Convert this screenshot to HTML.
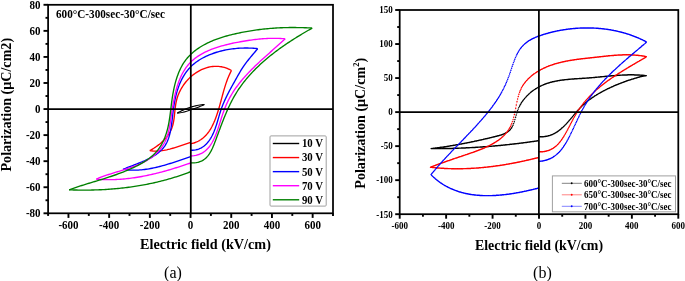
<!DOCTYPE html>
<html><head><meta charset="utf-8"><style>
html,body{margin:0;padding:0;background:#fff;}
body{width:685px;height:281px;overflow:hidden;}
svg{display:block;font-family:"Liberation Serif",serif;will-change:transform;}
</style></head><body>
<svg width="685" height="281" viewBox="0 0 685 281">
<path d="M204.40,104.50 L202.90,104.61 L201.41,104.77 L199.91,104.97 L198.42,105.21 L196.94,105.50 L195.46,105.83 L193.98,106.19 L192.52,106.60 L191.06,107.04 L189.61,107.52 L188.18,108.03 L186.75,108.57 L185.34,109.14 L183.94,109.73 L182.56,110.36 L181.19,111.01 L179.84,111.69 L178.51,112.38 L177.20,113.10" fill="none" stroke="#000000" stroke-width="1.15" stroke-linejoin="round"/>
<path d="M177.20,113.10 L178.65,112.98 L180.11,112.79 L181.57,112.54 L183.02,112.23 L184.48,111.87 L185.93,111.47 L187.39,111.04 L188.84,110.57 L190.29,110.08 L191.74,109.58 L193.18,109.06 L194.62,108.54 L196.06,108.01 L197.48,107.47 L198.90,106.91 L200.30,106.34 L201.69,105.75 L203.05,105.13 L204.40,104.50" fill="none" stroke="#000000" stroke-width="1.15" stroke-linejoin="round"/>
<path d="M231.50,70.50 L230.08,69.72 L228.65,69.03 L227.21,68.42 L225.77,67.89 L224.31,67.44 L222.86,67.07 L221.40,66.77 L219.94,66.55 L218.48,66.40 L217.02,66.32 L215.56,66.30 L214.11,66.36 L212.66,66.49 L211.22,66.68 L209.79,66.93 L208.36,67.24 L206.95,67.62 L205.55,68.05 L204.17,68.54 L202.80,69.09 L201.44,69.69 L200.11,70.35 L198.79,71.06 L197.50,71.81 L196.23,72.62 L194.98,73.47 L193.75,74.37 L192.56,75.31 L191.39,76.29 L190.25,77.31 L189.14,78.38 L188.06,79.48 L187.02,80.62 L186.01,81.79 L185.04,83.00 L184.11,84.23 L183.21,85.50 L182.36,86.80 L181.55,88.12 L180.78,89.47 L180.06,90.84 L179.38,92.24 L178.75,93.66 L178.17,95.09 L177.64,96.55 L177.16,98.02 L176.74,99.51 L176.36,101.01 L176.04,102.52 L175.77,104.04 L175.53,105.57 L175.32,107.11 L175.13,108.65 L174.96,110.19 L174.81,111.73 L174.65,113.26 L174.50,114.80 L174.33,116.32 L174.15,117.84 L173.94,119.35 L173.71,120.84 L173.44,122.32 L173.12,123.78 L172.76,125.22 L172.34,126.64 L171.86,128.04 L171.31,129.42 L170.68,130.76 L169.99,132.08 L169.24,133.37 L168.42,134.64 L167.54,135.87 L166.61,137.08 L165.63,138.25 L164.60,139.40 L163.52,140.52 L162.41,141.60 L161.26,142.65 L160.07,143.67 L158.86,144.66 L157.61,145.61 L156.35,146.53 L155.06,147.42 L153.76,148.27 L152.45,149.08 L151.13,149.86 L149.80,150.60" fill="none" stroke="#ff0000" stroke-width="1.35" stroke-linejoin="round"/>
<path d="M149.80,150.60 L151.36,150.82 L152.91,150.97 L154.46,151.06 L156.01,151.08 L157.55,151.05 L159.09,150.96 L160.62,150.81 L162.16,150.62 L163.68,150.39 L165.21,150.11 L166.73,149.80 L168.25,149.45 L169.76,149.08 L171.27,148.67 L172.78,148.24 L174.28,147.79 L175.78,147.32 L177.28,146.84 L178.77,146.35 L180.26,145.86 L181.75,145.36 L183.23,144.86 L184.71,144.37 L186.19,143.88 L187.66,143.40 L189.13,142.94 L190.60,142.50" fill="none" stroke="#ff0000" stroke-width="1.35" stroke-linejoin="round"/>
<path d="M190.60,143.80 L192.24,143.44 L193.80,143.00 L195.30,142.49 L196.74,141.91 L198.11,141.26 L199.43,140.54 L200.69,139.76 L201.89,138.92 L203.03,138.02 L204.13,137.07 L205.17,136.07 L206.17,135.01 L207.12,133.91 L208.03,132.77 L208.90,131.58 L209.72,130.35 L210.51,129.09 L211.27,127.80 L211.99,126.47 L212.67,125.12 L213.33,123.74 L213.97,122.33 L214.57,120.91 L215.15,119.47 L215.72,118.01 L216.26,116.54 L216.78,115.05 L217.28,113.55 L217.77,112.04 L218.24,110.51 L218.70,108.98 L219.15,107.44 L219.60,105.89 L220.03,104.34 L220.46,102.79 L220.88,101.23 L221.30,99.68 L221.72,98.12 L222.13,96.56 L222.55,95.01 L222.98,93.47 L223.41,91.93 L223.84,90.40 L224.28,88.87 L224.74,87.36 L225.20,85.86 L225.68,84.37 L226.17,82.89 L226.68,81.44 L227.20,79.99 L227.74,78.57 L228.31,77.17 L228.90,75.79 L229.51,74.43 L230.14,73.09 L230.81,71.78 L231.50,70.50" fill="none" stroke="#ff0000" stroke-width="1.35" stroke-linejoin="round"/>
<path d="M257.70,48.70 L256.32,48.54 L254.91,48.40 L253.49,48.28 L252.04,48.18 L250.58,48.10 L249.11,48.05 L247.61,48.01 L246.11,48.00 L244.59,48.01 L243.06,48.05 L241.52,48.10 L239.97,48.18 L238.41,48.28 L236.85,48.41 L235.28,48.56 L233.71,48.73 L232.14,48.93 L230.57,49.15 L228.99,49.40 L227.42,49.67 L225.85,49.96 L224.29,50.28 L222.73,50.63 L221.18,51.00 L219.64,51.40 L218.10,51.82 L216.58,52.27 L215.07,52.74 L213.57,53.25 L212.09,53.78 L210.62,54.33 L209.18,54.92 L207.74,55.53 L206.33,56.17 L204.95,56.84 L203.58,57.53 L202.24,58.25 L200.92,59.01 L199.63,59.79 L198.36,60.60 L197.13,61.44 L195.93,62.31 L194.75,63.21 L193.61,64.14 L192.51,65.10 L191.44,66.09 L190.41,67.11 L189.41,68.16 L188.45,69.24 L187.53,70.35 L186.64,71.49 L185.79,72.65 L184.97,73.84 L184.19,75.06 L183.44,76.30 L182.72,77.57 L182.03,78.86 L181.37,80.17 L180.74,81.50 L180.13,82.85 L179.56,84.23 L179.02,85.62 L178.50,87.03 L178.00,88.45 L177.53,89.90 L177.09,91.36 L176.66,92.83 L176.27,94.31 L175.89,95.81 L175.53,97.32 L175.20,98.85 L174.88,100.38 L174.58,101.92 L174.30,103.47 L174.04,105.03 L173.80,106.60 L173.57,108.17 L173.35,109.75 L173.15,111.33 L172.96,112.91 L172.77,114.49 L172.59,116.07 L172.41,117.65 L172.23,119.23 L172.05,120.80 L171.86,122.36 L171.65,123.91 L171.44,125.45 L171.21,126.97 L170.96,128.49 L170.69,129.98 L170.40,131.46 L170.07,132.92 L169.72,134.36 L169.34,135.77 L168.92,137.16 L168.46,138.53 L167.96,139.86 L167.41,141.17 L166.82,142.44 L166.18,143.69 L165.49,144.89 L164.74,146.07 L163.93,147.20 L163.06,148.29 L162.13,149.35 L161.14,150.37 L160.09,151.35 L159.00,152.29 L157.85,153.20 L156.66,154.08 L155.43,154.93 L154.16,155.75 L152.85,156.54 L151.52,157.30 L150.15,158.04 L148.76,158.76 L147.34,159.45 L145.91,160.13 L144.46,160.79 L142.99,161.42 L141.52,162.05 L140.04,162.66 L138.56,163.25 L137.08,163.84 L135.60,164.41 L134.13,164.98 L132.67,165.54 L131.22,166.09 L129.79,166.65 L128.38,167.19 L126.99,167.74 L125.63,168.29 L124.30,168.84 L123.00,169.40" fill="none" stroke="#0000ff" stroke-width="1.35" stroke-linejoin="round"/>
<path d="M123.00,169.40 L124.55,169.62 L126.10,169.80 L127.64,169.94 L129.18,170.05 L130.73,170.13 L132.27,170.18 L133.81,170.19 L135.34,170.17 L136.88,170.13 L138.41,170.05 L139.95,169.95 L141.48,169.82 L143.00,169.66 L144.53,169.48 L146.05,169.28 L147.58,169.05 L149.10,168.80 L150.61,168.53 L152.13,168.24 L153.64,167.93 L155.15,167.60 L156.66,167.26 L158.17,166.89 L159.67,166.51 L161.17,166.12 L162.67,165.71 L164.17,165.29 L165.66,164.86 L167.15,164.42 L168.64,163.97 L170.12,163.51 L171.61,163.04 L173.09,162.56 L174.56,162.07 L176.04,161.59 L177.51,161.09 L178.97,160.59 L180.44,160.09 L181.90,159.59 L183.36,159.09 L184.81,158.59 L186.27,158.09 L187.71,157.59 L189.16,157.09 L190.60,156.60" fill="none" stroke="#0000ff" stroke-width="1.35" stroke-linejoin="round"/>
<path d="M190.60,150.20 L192.36,150.22 L194.04,150.11 L195.64,149.87 L197.18,149.52 L198.64,149.05 L200.03,148.48 L201.36,147.80 L202.62,147.04 L203.82,146.19 L204.96,145.25 L206.04,144.25 L207.06,143.18 L208.03,142.04 L208.94,140.86 L209.80,139.62 L210.62,138.35 L211.38,137.04 L212.10,135.71 L212.77,134.35 L213.41,132.98 L214.01,131.59 L214.57,130.18 L215.11,128.76 L215.61,127.32 L216.10,125.88 L216.57,124.43 L217.02,122.97 L217.46,121.50 L217.90,120.04 L218.32,118.56 L218.75,117.09 L219.18,115.62 L219.62,114.15 L220.07,112.69 L220.53,111.23 L221.01,109.77 L221.51,108.33 L222.03,106.89 L222.58,105.47 L223.15,104.05 L223.74,102.65 L224.34,101.25 L224.97,99.86 L225.61,98.48 L226.26,97.10 L226.93,95.73 L227.62,94.37 L228.31,93.01 L229.02,91.66 L229.73,90.31 L230.45,88.97 L231.18,87.63 L231.91,86.29 L232.65,84.96 L233.39,83.63 L234.14,82.30 L234.88,80.97 L235.62,79.65 L236.36,78.32 L237.10,77.00 L237.85,75.68 L238.60,74.37 L239.35,73.06 L240.12,71.75 L240.90,70.46 L241.70,69.17 L242.52,67.89 L243.36,66.63 L244.22,65.38 L245.11,64.13 L246.02,62.90 L246.94,61.68 L247.88,60.47 L248.84,59.27 L249.81,58.07 L250.78,56.89 L251.76,55.70 L252.75,54.53 L253.75,53.36 L254.74,52.19 L255.73,51.02 L256.72,49.86 L257.70,48.70" fill="none" stroke="#0000ff" stroke-width="1.35" stroke-linejoin="round"/>
<path d="M285.20,38.80 L283.64,38.68 L282.09,38.58 L280.56,38.50 L279.03,38.43 L277.51,38.39 L276.01,38.36 L274.51,38.34 L273.01,38.35 L271.53,38.36 L270.05,38.40 L268.57,38.44 L267.10,38.51 L265.63,38.59 L264.16,38.68 L262.69,38.78 L261.23,38.90 L259.77,39.03 L258.30,39.18 L256.83,39.33 L255.36,39.50 L253.89,39.68 L252.41,39.88 L250.93,40.08 L249.44,40.29 L247.95,40.51 L246.45,40.75 L244.94,40.99 L243.42,41.24 L241.89,41.50 L240.35,41.77 L238.81,42.05 L237.26,42.34 L235.70,42.64 L234.14,42.96 L232.58,43.28 L231.02,43.62 L229.46,43.97 L227.90,44.34 L226.34,44.72 L224.78,45.11 L223.24,45.53 L221.69,45.95 L220.16,46.40 L218.63,46.86 L217.12,47.35 L215.61,47.85 L214.12,48.37 L212.65,48.91 L211.19,49.47 L209.74,50.06 L208.32,50.67 L206.91,51.29 L205.53,51.95 L204.16,52.62 L202.82,53.33 L201.51,54.05 L200.22,54.81 L198.95,55.59 L197.72,56.39 L196.51,57.23 L195.34,58.09 L194.20,58.98 L193.09,59.90 L192.01,60.85 L190.98,61.84 L189.98,62.85 L189.01,63.90 L188.09,64.97 L187.20,66.08 L186.34,67.21 L185.52,68.37 L184.73,69.56 L183.97,70.77 L183.24,72.01 L182.54,73.27 L181.87,74.56 L181.23,75.86 L180.62,77.19 L180.03,78.54 L179.47,79.91 L178.93,81.29 L178.42,82.69 L177.93,84.11 L177.46,85.55 L177.01,87.00 L176.58,88.46 L176.17,89.94 L175.78,91.43 L175.41,92.93 L175.05,94.44 L174.70,95.96 L174.38,97.48 L174.06,99.02 L173.76,100.56 L173.47,102.11 L173.19,103.66 L172.91,105.21 L172.65,106.77 L172.40,108.33 L172.15,109.89 L171.91,111.45 L171.68,113.01 L171.45,114.57 L171.22,116.13 L170.99,117.68 L170.77,119.23 L170.54,120.77 L170.30,122.30 L170.06,123.83 L169.80,125.34 L169.53,126.84 L169.24,128.33 L168.94,129.81 L168.60,131.27 L168.24,132.71 L167.86,134.14 L167.43,135.54 L166.98,136.92 L166.48,138.29 L165.95,139.63 L165.37,140.94 L164.74,142.23 L164.07,143.49 L163.35,144.72 L162.59,145.93 L161.79,147.11 L160.95,148.26 L160.06,149.39 L159.14,150.48 L158.18,151.55 L157.18,152.59 L156.14,153.60 L155.07,154.57 L153.96,155.52 L152.82,156.44 L151.64,157.33 L150.43,158.18 L149.19,159.01 L147.92,159.80 L146.63,160.57 L145.30,161.31 L143.95,162.02 L142.58,162.71 L141.19,163.37 L139.78,164.01 L138.35,164.63 L136.91,165.22 L135.45,165.80 L133.98,166.37 L132.50,166.91 L131.01,167.44 L129.51,167.96 L128.01,168.47 L126.50,168.96 L125.00,169.45 L123.49,169.92 L121.98,170.39 L120.48,170.85 L118.98,171.31 L117.49,171.76 L116.00,172.22 L114.52,172.67 L113.05,173.12 L111.59,173.58 L110.13,174.03 L108.69,174.50 L107.26,174.97 L105.84,175.44 L104.43,175.93 L103.04,176.42 L101.66,176.93 L100.29,177.45 L98.95,177.98 L97.61,178.53 L96.30,179.10" fill="none" stroke="#ff00ff" stroke-width="1.35" stroke-linejoin="round"/>
<path d="M96.30,179.10 L97.82,179.23 L99.34,179.35 L100.86,179.44 L102.38,179.52 L103.91,179.59 L105.43,179.63 L106.95,179.66 L108.48,179.68 L110.00,179.68 L111.52,179.66 L113.05,179.63 L114.57,179.58 L116.09,179.52 L117.61,179.45 L119.14,179.36 L120.66,179.25 L122.18,179.14 L123.70,179.01 L125.22,178.86 L126.74,178.70 L128.26,178.53 L129.78,178.35 L131.30,178.16 L132.82,177.95 L134.33,177.73 L135.85,177.50 L137.36,177.26 L138.88,177.01 L140.39,176.74 L141.90,176.47 L143.41,176.18 L144.92,175.89 L146.42,175.58 L147.93,175.27 L149.43,174.94 L150.93,174.61 L152.43,174.27 L153.93,173.92 L155.43,173.56 L156.92,173.19 L158.41,172.81 L159.90,172.43 L161.39,172.04 L162.88,171.64 L164.36,171.23 L165.84,170.82 L167.32,170.40 L168.80,169.98 L170.27,169.55 L171.74,169.11 L173.21,168.67 L174.68,168.22 L176.14,167.77 L177.60,167.31 L179.06,166.84 L180.51,166.38 L181.96,165.90 L183.41,165.43 L184.85,164.95 L186.30,164.47 L187.73,163.98 L189.17,163.49 L190.60,163.00" fill="none" stroke="#ff00ff" stroke-width="1.35" stroke-linejoin="round"/>
<path d="M190.60,156.00 L192.41,155.88 L194.13,155.67 L195.77,155.37 L197.33,154.98 L198.81,154.50 L200.21,153.94 L201.54,153.30 L202.80,152.59 L204.00,151.81 L205.13,150.97 L206.20,150.06 L207.21,149.09 L208.17,148.07 L209.08,146.99 L209.94,145.87 L210.76,144.70 L211.53,143.49 L212.27,142.24 L212.96,140.96 L213.63,139.65 L214.27,138.32 L214.87,136.96 L215.46,135.58 L216.02,134.18 L216.56,132.76 L217.09,131.33 L217.60,129.89 L218.10,128.43 L218.58,126.97 L219.06,125.49 L219.53,124.01 L220.00,122.53 L220.47,121.04 L220.94,119.55 L221.41,118.07 L221.89,116.58 L222.37,115.10 L222.87,113.63 L223.38,112.16 L223.90,110.71 L224.44,109.26 L225.00,107.83 L225.58,106.42 L226.18,105.01 L226.80,103.62 L227.44,102.25 L228.10,100.89 L228.78,99.54 L229.48,98.20 L230.21,96.88 L230.95,95.57 L231.71,94.28 L232.50,92.99 L233.30,91.72 L234.12,90.46 L234.96,89.22 L235.82,87.98 L236.70,86.76 L237.59,85.54 L238.50,84.34 L239.42,83.15 L240.37,81.97 L241.32,80.80 L242.29,79.64 L243.27,78.48 L244.27,77.34 L245.28,76.21 L246.30,75.08 L247.33,73.96 L248.37,72.85 L249.43,71.75 L250.49,70.66 L251.56,69.57 L252.64,68.49 L253.73,67.41 L254.83,66.34 L255.93,65.28 L257.04,64.23 L258.16,63.17 L259.28,62.13 L260.40,61.09 L261.53,60.05 L262.66,59.02 L263.80,57.99 L264.94,56.96 L266.08,55.94 L267.22,54.92 L268.36,53.90 L269.50,52.89 L270.64,51.88 L271.78,50.87 L272.92,49.86 L274.06,48.85 L275.19,47.85 L276.33,46.84 L277.45,45.84 L278.58,44.84 L279.70,43.83 L280.81,42.83 L281.92,41.82 L283.02,40.81 L284.11,39.81 L285.20,38.80" fill="none" stroke="#ff00ff" stroke-width="1.35" stroke-linejoin="round"/>
<path d="M312.20,28.10 L310.66,28.01 L309.12,27.93 L307.58,27.86 L306.05,27.79 L304.53,27.73 L303.00,27.68 L301.48,27.64 L299.97,27.60 L298.46,27.57 L296.95,27.55 L295.44,27.53 L293.94,27.52 L292.44,27.52 L290.94,27.53 L289.45,27.54 L287.96,27.56 L286.47,27.59 L284.98,27.63 L283.49,27.68 L282.00,27.73 L280.52,27.79 L279.03,27.86 L277.55,27.94 L276.07,28.03 L274.58,28.12 L273.10,28.22 L271.62,28.33 L270.14,28.45 L268.66,28.58 L267.17,28.72 L265.69,28.87 L264.20,29.02 L262.72,29.18 L261.23,29.36 L259.74,29.54 L258.25,29.73 L256.76,29.93 L255.27,30.14 L253.77,30.35 L252.28,30.58 L250.78,30.82 L249.27,31.06 L247.77,31.32 L246.26,31.58 L244.75,31.86 L243.23,32.14 L241.71,32.44 L240.19,32.74 L238.66,33.06 L237.14,33.38 L235.61,33.72 L234.09,34.07 L232.56,34.43 L231.04,34.81 L229.52,35.20 L228.01,35.60 L226.49,36.02 L224.99,36.45 L223.49,36.90 L222.00,37.36 L220.52,37.84 L219.05,38.33 L217.58,38.85 L216.13,39.38 L214.69,39.92 L213.27,40.49 L211.85,41.07 L210.45,41.68 L209.07,42.30 L207.70,42.95 L206.35,43.61 L205.02,44.30 L203.71,45.01 L202.41,45.74 L201.14,46.49 L199.89,47.27 L198.66,48.07 L197.45,48.89 L196.27,49.74 L195.12,50.62 L193.98,51.52 L192.88,52.44 L191.80,53.39 L190.76,54.37 L189.74,55.37 L188.75,56.41 L187.79,57.47 L186.87,58.56 L185.97,59.68 L185.12,60.82 L184.29,62.00 L183.50,63.21 L182.74,64.44 L182.01,65.70 L181.31,66.98 L180.65,68.29 L180.01,69.62 L179.40,70.97 L178.81,72.34 L178.26,73.73 L177.73,75.14 L177.22,76.56 L176.74,78.01 L176.28,79.46 L175.84,80.93 L175.43,82.42 L175.03,83.91 L174.66,85.42 L174.31,86.94 L173.97,88.46 L173.65,89.99 L173.35,91.53 L173.06,93.07 L172.79,94.62 L172.54,96.16 L172.30,97.72 L172.07,99.27 L171.85,100.82 L171.64,102.37 L171.44,103.92 L171.25,105.46 L171.06,107.00 L170.88,108.55 L170.69,110.08 L170.51,111.62 L170.32,113.15 L170.12,114.67 L169.92,116.19 L169.70,117.71 L169.47,119.21 L169.23,120.72 L168.98,122.21 L168.70,123.70 L168.41,125.18 L168.09,126.65 L167.75,128.12 L167.38,129.57 L166.99,131.01 L166.57,132.44 L166.13,133.86 L165.65,135.26 L165.15,136.64 L164.62,138.01 L164.06,139.36 L163.46,140.69 L162.83,142.00 L162.17,143.28 L161.48,144.55 L160.74,145.78 L159.98,147.00 L159.17,148.18 L158.33,149.34 L157.44,150.47 L156.52,151.57 L155.56,152.64 L154.56,153.68 L153.52,154.69 L152.44,155.67 L151.34,156.62 L150.20,157.55 L149.03,158.45 L147.84,159.33 L146.62,160.18 L145.38,161.01 L144.11,161.82 L142.83,162.60 L141.53,163.37 L140.21,164.12 L138.88,164.84 L137.53,165.55 L136.18,166.24 L134.82,166.92 L133.45,167.58 L132.07,168.23 L130.68,168.86 L129.29,169.48 L127.90,170.08 L126.50,170.67 L125.09,171.25 L123.68,171.82 L122.26,172.38 L120.84,172.93 L119.42,173.46 L117.99,173.99 L116.55,174.50 L115.12,175.01 L113.68,175.51 L112.24,176.01 L110.79,176.49 L109.35,176.97 L107.90,177.44 L106.45,177.91 L105.00,178.37 L103.55,178.83 L102.09,179.29 L100.64,179.74 L99.18,180.18 L97.73,180.63 L96.28,181.07 L94.82,181.51 L93.37,181.95 L91.92,182.39 L90.47,182.83 L89.02,183.27 L87.58,183.72 L86.13,184.16 L84.69,184.61 L83.26,185.06 L81.82,185.51 L80.39,185.96 L78.96,186.42 L77.54,186.89 L76.12,187.36 L74.71,187.83 L73.30,188.31 L71.89,188.80 L70.49,189.30 L69.10,189.80" fill="none" stroke="#008000" stroke-width="1.35" stroke-linejoin="round"/>
<path d="M69.10,189.80 L70.61,189.86 L72.12,189.91 L73.64,189.96 L75.15,190.00 L76.67,190.03 L78.19,190.06 L79.71,190.08 L81.23,190.09 L82.75,190.10 L84.28,190.10 L85.80,190.10 L87.32,190.09 L88.85,190.07 L90.38,190.05 L91.90,190.02 L93.43,189.99 L94.96,189.94 L96.49,189.89 L98.02,189.84 L99.55,189.78 L101.08,189.71 L102.61,189.63 L104.14,189.55 L105.67,189.46 L107.20,189.36 L108.73,189.26 L110.26,189.15 L111.79,189.03 L113.31,188.91 L114.84,188.78 L116.37,188.64 L117.90,188.49 L119.43,188.34 L120.95,188.18 L122.48,188.01 L124.00,187.84 L125.53,187.65 L127.05,187.47 L128.57,187.27 L130.09,187.06 L131.61,186.85 L133.13,186.63 L134.65,186.40 L136.16,186.17 L137.68,185.93 L139.19,185.68 L140.70,185.42 L142.21,185.15 L143.72,184.88 L145.22,184.60 L146.73,184.31 L148.23,184.01 L149.73,183.70 L151.23,183.39 L152.72,183.07 L154.21,182.74 L155.70,182.40 L157.19,182.05 L158.68,181.69 L160.16,181.33 L161.64,180.96 L163.12,180.58 L164.60,180.19 L166.07,179.79 L167.54,179.39 L169.01,178.97 L170.47,178.55 L171.93,178.12 L173.39,177.68 L174.84,177.23 L176.29,176.77 L177.74,176.31 L179.18,175.83 L180.62,175.35 L182.06,174.85 L183.49,174.35 L184.92,173.84 L186.35,173.32 L187.77,172.79 L189.19,172.25 L190.60,171.70" fill="none" stroke="#008000" stroke-width="1.35" stroke-linejoin="round"/>
<path d="M190.60,162.80 L192.52,162.89 L194.34,162.85 L196.05,162.68 L197.66,162.39 L199.17,161.98 L200.59,161.46 L201.93,160.84 L203.18,160.12 L204.35,159.31 L205.45,158.42 L206.47,157.45 L207.43,156.41 L208.33,155.31 L209.17,154.15 L209.96,152.93 L210.69,151.67 L211.39,150.38 L212.04,149.05 L212.66,147.69 L213.26,146.30 L213.83,144.90 L214.39,143.49 L214.94,142.06 L215.48,140.64 L216.02,139.21 L216.56,137.78 L217.09,136.35 L217.62,134.92 L218.16,133.50 L218.69,132.07 L219.22,130.64 L219.75,129.21 L220.29,127.78 L220.82,126.36 L221.36,124.94 L221.91,123.52 L222.45,122.10 L223.00,120.69 L223.56,119.27 L224.12,117.87 L224.69,116.46 L225.27,115.06 L225.85,113.67 L226.44,112.28 L227.04,110.89 L227.65,109.52 L228.27,108.14 L228.90,106.78 L229.54,105.42 L230.19,104.06 L230.86,102.72 L231.53,101.38 L232.23,100.05 L232.93,98.73 L233.65,97.42 L234.39,96.12 L235.14,94.82 L235.91,93.54 L236.70,92.26 L237.50,91.00 L238.32,89.74 L239.16,88.50 L240.01,87.27 L240.88,86.04 L241.77,84.83 L242.67,83.62 L243.58,82.43 L244.52,81.24 L245.46,80.07 L246.42,78.90 L247.40,77.75 L248.38,76.60 L249.39,75.47 L250.40,74.34 L251.43,73.22 L252.47,72.11 L253.52,71.01 L254.58,69.92 L255.66,68.84 L256.74,67.77 L257.84,66.71 L258.95,65.65 L260.07,64.61 L261.19,63.57 L262.33,62.54 L263.48,61.53 L264.63,60.52 L265.80,59.52 L266.97,58.52 L268.15,57.54 L269.34,56.57 L270.54,55.60 L271.74,54.64 L272.95,53.69 L274.17,52.75 L275.39,51.82 L276.62,50.89 L277.86,49.97 L279.10,49.06 L280.34,48.16 L281.59,47.27 L282.85,46.39 L284.11,45.51 L285.37,44.64 L286.63,43.78 L287.90,42.92 L289.17,42.08 L290.45,41.24 L291.73,40.41 L293.00,39.59 L294.28,38.77 L295.56,37.96 L296.85,37.16 L298.13,36.37 L299.41,35.58 L300.70,34.80 L301.98,34.03 L303.26,33.26 L304.54,32.50 L305.82,31.75 L307.10,31.01 L308.38,30.27 L309.66,29.54 L310.93,28.82 L312.20,28.10" fill="none" stroke="#008000" stroke-width="1.35" stroke-linejoin="round"/>
<rect x="48.1" y="4.8" width="284.90" height="208.50" fill="none" stroke="#000" stroke-width="1.75"/>
<line x1="48.1" y1="109.05" x2="333.0" y2="109.05" stroke="#000" stroke-width="1.75"/>
<line x1="190.80" y1="4.8" x2="190.80" y2="213.3" stroke="#000" stroke-width="1.75"/>
<line x1="43.50" y1="213.30" x2="48.1" y2="213.30" stroke="#000" stroke-width="1.9"/>
<text transform="translate(40.60,217.20) scale(1,1.1)" text-anchor="end" font-size="11" font-weight="bold">-80</text>
<line x1="45.50" y1="200.27" x2="48.1" y2="200.27" stroke="#000" stroke-width="1.9"/>
<line x1="43.50" y1="187.24" x2="48.1" y2="187.24" stroke="#000" stroke-width="1.9"/>
<text transform="translate(40.60,191.14) scale(1,1.1)" text-anchor="end" font-size="11" font-weight="bold">-60</text>
<line x1="45.50" y1="174.21" x2="48.1" y2="174.21" stroke="#000" stroke-width="1.9"/>
<line x1="43.50" y1="161.18" x2="48.1" y2="161.18" stroke="#000" stroke-width="1.9"/>
<text transform="translate(40.60,165.08) scale(1,1.1)" text-anchor="end" font-size="11" font-weight="bold">-40</text>
<line x1="45.50" y1="148.14" x2="48.1" y2="148.14" stroke="#000" stroke-width="1.9"/>
<line x1="43.50" y1="135.11" x2="48.1" y2="135.11" stroke="#000" stroke-width="1.9"/>
<text transform="translate(40.60,139.01) scale(1,1.1)" text-anchor="end" font-size="11" font-weight="bold">-20</text>
<line x1="45.50" y1="122.08" x2="48.1" y2="122.08" stroke="#000" stroke-width="1.9"/>
<line x1="43.50" y1="109.05" x2="48.1" y2="109.05" stroke="#000" stroke-width="1.9"/>
<text transform="translate(40.60,112.95) scale(1,1.1)" text-anchor="end" font-size="11" font-weight="bold">0</text>
<line x1="45.50" y1="96.02" x2="48.1" y2="96.02" stroke="#000" stroke-width="1.9"/>
<line x1="43.50" y1="82.99" x2="48.1" y2="82.99" stroke="#000" stroke-width="1.9"/>
<text transform="translate(40.60,86.89) scale(1,1.1)" text-anchor="end" font-size="11" font-weight="bold">20</text>
<line x1="45.50" y1="69.96" x2="48.1" y2="69.96" stroke="#000" stroke-width="1.9"/>
<line x1="43.50" y1="56.93" x2="48.1" y2="56.93" stroke="#000" stroke-width="1.9"/>
<text transform="translate(40.60,60.83) scale(1,1.1)" text-anchor="end" font-size="11" font-weight="bold">40</text>
<line x1="45.50" y1="43.89" x2="48.1" y2="43.89" stroke="#000" stroke-width="1.9"/>
<line x1="43.50" y1="30.86" x2="48.1" y2="30.86" stroke="#000" stroke-width="1.9"/>
<text transform="translate(40.60,34.76) scale(1,1.1)" text-anchor="end" font-size="11" font-weight="bold">60</text>
<line x1="45.50" y1="17.83" x2="48.1" y2="17.83" stroke="#000" stroke-width="1.9"/>
<line x1="43.50" y1="4.80" x2="48.1" y2="4.80" stroke="#000" stroke-width="1.9"/>
<text transform="translate(40.60,8.70) scale(1,1.1)" text-anchor="end" font-size="11" font-weight="bold">80</text>
<line x1="48.10" y1="213.3" x2="48.10" y2="215.90" stroke="#000" stroke-width="1.9"/>
<line x1="68.45" y1="213.3" x2="68.45" y2="217.90" stroke="#000" stroke-width="1.9"/>
<text transform="translate(68.45,229.40) scale(1,1.1)" text-anchor="middle" font-size="11" font-weight="bold">-600</text>
<line x1="88.80" y1="213.3" x2="88.80" y2="215.90" stroke="#000" stroke-width="1.9"/>
<line x1="109.15" y1="213.3" x2="109.15" y2="217.90" stroke="#000" stroke-width="1.9"/>
<text transform="translate(109.15,229.40) scale(1,1.1)" text-anchor="middle" font-size="11" font-weight="bold">-400</text>
<line x1="129.50" y1="213.3" x2="129.50" y2="215.90" stroke="#000" stroke-width="1.9"/>
<line x1="149.85" y1="213.3" x2="149.85" y2="217.90" stroke="#000" stroke-width="1.9"/>
<text transform="translate(149.85,229.40) scale(1,1.1)" text-anchor="middle" font-size="11" font-weight="bold">-200</text>
<line x1="170.20" y1="213.3" x2="170.20" y2="215.90" stroke="#000" stroke-width="1.9"/>
<line x1="190.55" y1="213.3" x2="190.55" y2="217.90" stroke="#000" stroke-width="1.9"/>
<text transform="translate(190.55,229.40) scale(1,1.1)" text-anchor="middle" font-size="11" font-weight="bold">0</text>
<line x1="210.90" y1="213.3" x2="210.90" y2="215.90" stroke="#000" stroke-width="1.9"/>
<line x1="231.25" y1="213.3" x2="231.25" y2="217.90" stroke="#000" stroke-width="1.9"/>
<text transform="translate(231.25,229.40) scale(1,1.1)" text-anchor="middle" font-size="11" font-weight="bold">200</text>
<line x1="251.60" y1="213.3" x2="251.60" y2="215.90" stroke="#000" stroke-width="1.9"/>
<line x1="271.95" y1="213.3" x2="271.95" y2="217.90" stroke="#000" stroke-width="1.9"/>
<text transform="translate(271.95,229.40) scale(1,1.1)" text-anchor="middle" font-size="11" font-weight="bold">400</text>
<line x1="292.30" y1="213.3" x2="292.30" y2="215.90" stroke="#000" stroke-width="1.9"/>
<line x1="312.65" y1="213.3" x2="312.65" y2="217.90" stroke="#000" stroke-width="1.9"/>
<text transform="translate(312.65,229.40) scale(1,1.1)" text-anchor="middle" font-size="11" font-weight="bold">600</text>
<line x1="333.00" y1="213.3" x2="333.00" y2="215.90" stroke="#000" stroke-width="1.9"/>
<text transform="translate(56.00,17.70) scale(1,1.1)" font-size="11.2" font-weight="bold">600°C-300sec-30°C/sec</text>
<text x="205.5" y="248.8" text-anchor="middle" font-size="14.2" font-weight="bold">Electric field (kV/cm)</text>
<text transform="translate(10.9,104.7) rotate(-90)" text-anchor="middle" font-size="14.1" font-weight="bold">Polarization (μC/cm2)</text>
<text x="173" y="278.3" text-anchor="middle" font-size="16">(a)</text>
<rect x="270" y="135.9" width="56.2" height="70.2" fill="#fff" stroke="#a0a0a0" stroke-width="1" rx="1"/>
<line x1="272.8" y1="143.50" x2="299.2" y2="143.50" stroke="#000" stroke-width="1.4"/>
<text transform="translate(301.90,147.40) scale(1,1.08)" font-size="10.8" font-weight="bold">10 V</text>
<line x1="272.8" y1="157.57" x2="299.2" y2="157.57" stroke="#ff0000" stroke-width="1.4"/>
<text transform="translate(301.90,161.47) scale(1,1.08)" font-size="10.8" font-weight="bold">30 V</text>
<line x1="272.8" y1="171.64" x2="299.2" y2="171.64" stroke="#0000ff" stroke-width="1.4"/>
<text transform="translate(301.90,175.54) scale(1,1.08)" font-size="10.8" font-weight="bold">50 V</text>
<line x1="272.8" y1="185.71" x2="299.2" y2="185.71" stroke="#ff00ff" stroke-width="1.4"/>
<text transform="translate(301.90,189.61) scale(1,1.08)" font-size="10.8" font-weight="bold">70 V</text>
<line x1="272.8" y1="199.78" x2="299.2" y2="199.78" stroke="#008000" stroke-width="1.4"/>
<text transform="translate(301.90,203.68) scale(1,1.08)" font-size="10.8" font-weight="bold">90 V</text>
<path d="M646.70,75.70 L645.14,75.52 L643.58,75.37 L642.03,75.23 L640.49,75.12 L638.96,75.02 L637.43,74.95 L635.91,74.89 L634.39,74.85 L632.88,74.82 L631.37,74.81 L629.87,74.82 L628.37,74.84 L626.88,74.87 L625.38,74.92 L623.90,74.97 L622.41,75.04 L620.93,75.12 L619.44,75.21 L617.96,75.31 L616.49,75.41 L615.01,75.53 L613.53,75.64 L612.05,75.77 L610.58,75.90 L609.10,76.03 L607.62,76.17 L606.14,76.31 L604.66,76.46 L603.17,76.60 L601.69,76.75 L600.20,76.89 L598.71,77.03 L597.21,77.18 L595.71,77.32 L594.21,77.45 L592.70,77.58 L591.19,77.71 L589.67,77.83 L588.15,77.95 L586.62,78.06 L585.09,78.16 L583.55,78.26 L582.01,78.36 L580.46,78.46 L578.91,78.55 L577.36,78.65 L575.82,78.75 L574.27,78.86 L572.72,78.97 L571.17,79.10 L569.62,79.23 L568.08,79.37 L566.54,79.53 L565.01,79.70 L563.48,79.88 L561.96,80.09 L560.44,80.31 L558.93,80.55 L557.43,80.81 L555.94,81.10 L554.46,81.41 L552.99,81.75 L551.53,82.12 L550.08,82.51 L548.64,82.94 L547.22,83.40 L545.81,83.90 L544.42,84.43 L543.04,84.99 L541.68,85.59 L540.34,86.23 L539.02,86.91 L537.72,87.62 L536.44,88.37 L535.18,89.15 L533.95,89.97 L532.75,90.83 L531.57,91.72 L530.43,92.64 L529.31,93.60 L528.23,94.60 L527.17,95.63 L526.16,96.69 L525.18,97.79 L524.23,98.92 L523.32,100.09 L522.46,101.29 L521.63,102.53 L520.85,103.80 L520.11,105.10 L519.41,106.44 L518.76,107.80 L518.16,109.21 L517.61,110.64 L517.11,112.11 L516.64,113.60 L516.21,115.10 L515.79,116.61 L515.38,118.12 L514.96,119.61 L514.52,121.08 L514.06,122.51 L513.55,123.90 L512.99,125.24 L512.37,126.52 L511.67,127.73 L510.89,128.86 L510.00,129.89 L509.02,130.83 L507.93,131.68 L506.75,132.45 L505.50,133.14 L504.17,133.76 L502.78,134.33 L501.35,134.84 L499.87,135.31 L498.36,135.75 L496.83,136.16 L495.29,136.54 L493.74,136.92 L492.20,137.29 L490.67,137.66 L489.14,138.02 L487.62,138.38 L486.10,138.73 L484.59,139.08 L483.09,139.42 L481.59,139.76 L480.09,140.09 L478.60,140.43 L477.11,140.75 L475.62,141.07 L474.14,141.39 L472.66,141.70 L471.18,142.01 L469.71,142.31 L468.23,142.61 L466.76,142.91 L465.29,143.20 L463.82,143.48 L462.35,143.76 L460.88,144.04 L459.41,144.31 L457.95,144.58 L456.48,144.84 L455.00,145.10 L453.53,145.35 L452.06,145.60 L450.58,145.85 L449.11,146.09 L447.63,146.32 L446.14,146.55 L444.66,146.78 L443.17,147.00 L441.68,147.21 L440.18,147.43 L438.68,147.63 L437.17,147.84 L435.66,148.03 L434.15,148.23 L432.63,148.42 L431.10,148.60" fill="none" stroke="#000000" stroke-width="0.5" stroke-opacity="0.4"/>
<path d="M431.10,148.60 L432.62,148.60 L434.15,148.61 L435.67,148.60 L437.20,148.60 L438.72,148.59 L440.25,148.58 L441.77,148.56 L443.29,148.54 L444.82,148.52 L446.34,148.49 L447.87,148.46 L449.39,148.43 L450.91,148.39 L452.44,148.35 L453.96,148.31 L455.48,148.27 L457.01,148.22 L458.53,148.16 L460.05,148.11 L461.58,148.05 L463.10,147.98 L464.62,147.91 L466.14,147.84 L467.67,147.77 L469.19,147.69 L470.71,147.61 L472.23,147.53 L473.75,147.44 L475.28,147.35 L476.80,147.26 L478.32,147.16 L479.84,147.06 L481.36,146.96 L482.88,146.85 L484.40,146.74 L485.92,146.63 L487.44,146.51 L488.96,146.39 L490.48,146.27 L492.00,146.14 L493.51,146.01 L495.03,145.88 L496.55,145.74 L498.07,145.60 L499.58,145.46 L501.10,145.31 L502.62,145.16 L504.13,145.01 L505.65,144.85 L507.17,144.69 L508.68,144.53 L510.20,144.36 L511.71,144.20 L513.22,144.02 L514.74,143.85 L516.25,143.67 L517.76,143.49 L519.28,143.30 L520.79,143.11 L522.30,142.92 L523.81,142.73 L525.32,142.53 L526.83,142.33 L528.34,142.12 L529.85,141.91 L531.36,141.70 L532.87,141.49 L534.38,141.27 L535.89,141.05 L537.39,140.83 L538.90,140.60" fill="none" stroke="#000000" stroke-width="0.5" stroke-opacity="0.4"/>
<path d="M538.90,136.70 L540.64,136.76 L542.33,136.73 L543.96,136.62 L545.54,136.41 L547.08,136.13 L548.56,135.77 L550.00,135.34 L551.39,134.84 L552.74,134.27 L554.06,133.63 L555.33,132.94 L556.58,132.19 L557.79,131.39 L558.97,130.53 L560.12,129.63 L561.25,128.69 L562.35,127.71 L563.43,126.70 L564.49,125.65 L565.54,124.57 L566.57,123.47 L567.59,122.34 L568.60,121.20 L569.60,120.04 L570.60,118.87 L571.59,117.70 L572.58,116.52 L573.57,115.33 L574.57,114.15 L575.57,112.98 L576.58,111.81 L577.59,110.66 L578.62,109.53 L579.67,108.41 L580.73,107.32 L581.81,106.25 L582.90,105.21 L584.02,104.20 L585.15,103.20 L586.30,102.24 L587.46,101.29 L588.64,100.37 L589.84,99.47 L591.05,98.58 L592.27,97.72 L593.51,96.88 L594.77,96.06 L596.03,95.25 L597.31,94.46 L598.61,93.69 L599.91,92.94 L601.23,92.20 L602.56,91.47 L603.90,90.76 L605.25,90.06 L606.61,89.37 L607.98,88.70 L609.36,88.04 L610.75,87.39 L612.15,86.75 L613.56,86.12 L614.97,85.51 L616.38,84.91 L617.81,84.32 L619.24,83.75 L620.67,83.19 L622.11,82.64 L623.55,82.10 L624.99,81.58 L626.43,81.07 L627.88,80.57 L629.33,80.08 L630.77,79.61 L632.22,79.15 L633.67,78.70 L635.11,78.27 L636.55,77.85 L637.99,77.44 L639.43,77.05 L640.86,76.67 L642.30,76.32 L643.74,76.02 L645.21,75.80 L646.70,75.70" fill="none" stroke="#000000" stroke-width="0.5" stroke-opacity="0.4"/>
<path d="M431.1 148.6h0M431.7 148.5h0M432.4 148.4h0M433.0 148.4h0M433.7 148.3h0M434.3 148.2h0M435.0 148.1h0M435.6 148.0h0M436.3 148.0h0M436.9 147.9h0M437.6 147.8h0M438.2 147.7h0M438.9 147.6h0M439.5 147.5h0M440.2 147.4h0M440.8 147.3h0M441.5 147.2h0M442.1 147.1h0M442.8 147.1h0M443.4 147.0h0M444.1 146.9h0M444.7 146.8h0M445.4 146.7h0M446.0 146.6h0M446.7 146.5h0M447.3 146.4h0M448.0 146.3h0M448.6 146.2h0M449.3 146.1h0M449.9 145.9h0M450.6 145.8h0M451.2 145.7h0M451.9 145.6h0M452.5 145.5h0M453.2 145.4h0M453.8 145.3h0M454.5 145.2h0M455.1 145.1h0M455.8 145.0h0M456.4 144.8h0M457.1 144.7h0M457.7 144.6h0M458.4 144.5h0M459.0 144.4h0M459.7 144.3h0M460.3 144.1h0M461.0 144.0h0M461.6 143.9h0M462.3 143.8h0M462.9 143.6h0M463.6 143.5h0M464.2 143.4h0M464.9 143.3h0M465.5 143.1h0M466.2 143.0h0M466.8 142.9h0M467.5 142.8h0M468.1 142.6h0M468.8 142.5h0M469.4 142.4h0M470.1 142.2h0M470.7 142.1h0M471.4 142.0h0M472.0 141.8h0M472.7 141.7h0M473.3 141.6h0M474.0 141.4h0M474.6 141.3h0M475.3 141.1h0M475.9 141.0h0M476.6 140.9h0M477.2 140.7h0M477.9 140.6h0M478.5 140.4h0M479.2 140.3h0M479.8 140.1h0M480.5 140.0h0M481.1 139.9h0M481.8 139.7h0M482.4 139.6h0M483.1 139.4h0M483.7 139.3h0M484.4 139.1h0M485.0 139.0h0M485.7 138.8h0M486.3 138.7h0M487.0 138.5h0M487.6 138.4h0M488.3 138.2h0M488.9 138.1h0M489.6 137.9h0M490.2 137.8h0M490.9 137.6h0M491.5 137.4h0M492.2 137.3h0M492.8 137.1h0M493.5 137.0h0M494.1 136.8h0M494.8 136.7h0M495.4 136.5h0M496.1 136.3h0M496.7 136.2h0M497.4 136.0h0M498.0 135.8h0M498.7 135.7h0M499.3 135.5h0M500.0 135.3h0M500.6 135.1h0M501.3 134.9h0M501.9 134.6h0M502.6 134.4h0M503.2 134.1h0M503.9 133.9h0M504.5 133.6h0M505.2 133.3h0M505.8 133.0h0M506.5 132.6h0M507.1 132.2h0M507.8 131.8h0M508.4 131.3h0M509.1 130.8h0M509.7 130.2h0M510.4 129.5h0M511.0 128.6h0M511.7 127.7h0M512.3 126.6h0M513.0 125.2h0M513.6 123.6h0M514.3 121.8h0M514.9 119.6h0M515.6 117.3h0M516.2 115.0h0M516.9 112.8h0M517.5 110.8h0M518.2 109.1h0M518.8 107.6h0M519.5 106.3h0M520.1 105.0h0M520.8 103.9h0M521.4 102.8h0M522.1 101.8h0M522.7 100.9h0M523.4 100.0h0M524.0 99.2h0M524.7 98.4h0M525.3 97.6h0M526.0 96.9h0M526.6 96.2h0M527.3 95.5h0M527.9 94.9h0M528.6 94.2h0M529.2 93.7h0M529.9 93.1h0M530.5 92.5h0M531.2 92.0h0M531.8 91.5h0M532.5 91.0h0M533.1 90.5h0M533.8 90.1h0M534.4 89.6h0M535.1 89.2h0M535.7 88.8h0M536.4 88.4h0M537.0 88.0h0M537.7 87.6h0M538.3 87.3h0M539.0 86.9h0M539.6 86.6h0M540.3 86.3h0M540.9 85.9h0M541.6 85.6h0M542.2 85.3h0M542.9 85.1h0M543.5 84.8h0M544.2 84.5h0M544.8 84.3h0M545.5 84.0h0M546.1 83.8h0M546.8 83.5h0M547.4 83.3h0M548.1 83.1h0M548.7 82.9h0M549.4 82.7h0M550.0 82.5h0M550.7 82.3h0M551.3 82.2h0M552.0 82.0h0M552.6 81.8h0M553.3 81.7h0M553.9 81.5h0M554.6 81.4h0M555.2 81.2h0M555.9 81.1h0M556.5 81.0h0M557.2 80.9h0M557.8 80.7h0M558.5 80.6h0M559.1 80.5h0M559.8 80.4h0M560.4 80.3h0M561.1 80.2h0M561.7 80.1h0M562.4 80.0h0M563.0 79.9h0M563.7 79.9h0M564.3 79.8h0M565.0 79.7h0M565.6 79.6h0M566.3 79.6h0M566.9 79.5h0M567.6 79.4h0M568.2 79.4h0M568.9 79.3h0M569.5 79.2h0M570.2 79.2h0M570.8 79.1h0M571.5 79.1h0M572.1 79.0h0M572.8 79.0h0M573.4 78.9h0M574.1 78.9h0M574.7 78.8h0M575.4 78.8h0M576.0 78.7h0M576.7 78.7h0M577.3 78.7h0M578.0 78.6h0M578.6 78.6h0M579.3 78.5h0M579.9 78.5h0M580.6 78.4h0M581.2 78.4h0M581.9 78.4h0M582.5 78.3h0M583.2 78.3h0M583.8 78.2h0M584.5 78.2h0M585.1 78.2h0M585.8 78.1h0M586.4 78.1h0M587.1 78.0h0M587.7 78.0h0M588.4 77.9h0M589.0 77.9h0M589.7 77.8h0M590.3 77.8h0M591.0 77.7h0M591.6 77.7h0M592.3 77.6h0M592.9 77.6h0M593.6 77.5h0M594.2 77.4h0M594.9 77.4h0M595.5 77.3h0M596.2 77.3h0M596.8 77.2h0M597.5 77.1h0M598.1 77.1h0M598.8 77.0h0M599.4 77.0h0M600.1 76.9h0M600.7 76.8h0M601.4 76.8h0M602.0 76.7h0M602.7 76.6h0M603.3 76.6h0M604.0 76.5h0M604.6 76.5h0M605.3 76.4h0M605.9 76.3h0M606.6 76.3h0M607.2 76.2h0M607.9 76.1h0M608.5 76.1h0M609.2 76.0h0M609.8 76.0h0M610.5 75.9h0M611.1 75.8h0M611.8 75.8h0M612.4 75.7h0M613.1 75.7h0M613.7 75.6h0M614.4 75.6h0M615.0 75.5h0M615.7 75.5h0M616.3 75.4h0M617.0 75.4h0M617.6 75.3h0M618.3 75.3h0M618.9 75.2h0M619.6 75.2h0M620.2 75.2h0M620.9 75.1h0M621.5 75.1h0M622.2 75.1h0M622.8 75.0h0M623.5 75.0h0M624.1 75.0h0M624.8 74.9h0M625.4 74.9h0M626.1 74.9h0M626.7 74.9h0M627.4 74.9h0M628.0 74.8h0M628.7 74.8h0M629.3 74.8h0M630.0 74.8h0M630.6 74.8h0M631.3 74.8h0M631.9 74.8h0M632.6 74.8h0M633.2 74.8h0M633.9 74.8h0M634.5 74.9h0M635.2 74.9h0M635.8 74.9h0M636.5 74.9h0M637.1 74.9h0M637.8 75.0h0M638.4 75.0h0M639.1 75.0h0M639.7 75.1h0M640.4 75.1h0M641.0 75.2h0M641.7 75.2h0M642.3 75.3h0M643.0 75.3h0M643.6 75.4h0M644.3 75.4h0M644.9 75.5h0M645.6 75.6h0M646.2 75.6h0M431.1 148.6h0M431.7 148.6h0M432.4 148.6h0M433.0 148.6h0M433.7 148.6h0M434.3 148.6h0M435.0 148.6h0M435.6 148.6h0M436.3 148.6h0M436.9 148.6h0M437.6 148.6h0M438.2 148.6h0M438.9 148.6h0M439.5 148.6h0M440.2 148.6h0M440.8 148.6h0M441.5 148.6h0M442.1 148.6h0M442.8 148.5h0M443.4 148.5h0M444.1 148.5h0M444.7 148.5h0M445.4 148.5h0M446.0 148.5h0M446.7 148.5h0M447.3 148.5h0M448.0 148.5h0M448.6 148.4h0M449.3 148.4h0M449.9 148.4h0M450.6 148.4h0M451.2 148.4h0M451.9 148.4h0M452.5 148.4h0M453.2 148.3h0M453.8 148.3h0M454.5 148.3h0M455.1 148.3h0M455.8 148.3h0M456.4 148.2h0M457.1 148.2h0M457.7 148.2h0M458.4 148.2h0M459.0 148.1h0M459.7 148.1h0M460.3 148.1h0M461.0 148.1h0M461.6 148.0h0M462.3 148.0h0M462.9 148.0h0M463.6 148.0h0M464.2 147.9h0M464.9 147.9h0M465.5 147.9h0M466.2 147.8h0M466.8 147.8h0M467.5 147.8h0M468.1 147.7h0M468.8 147.7h0M469.4 147.7h0M470.1 147.6h0M470.7 147.6h0M471.4 147.6h0M472.0 147.5h0M472.7 147.5h0M473.3 147.5h0M474.0 147.4h0M474.6 147.4h0M475.3 147.4h0M475.9 147.3h0M476.6 147.3h0M477.2 147.2h0M477.9 147.2h0M478.5 147.1h0M479.2 147.1h0M479.8 147.1h0M480.5 147.0h0M481.1 147.0h0M481.8 146.9h0M482.4 146.9h0M483.1 146.8h0M483.7 146.8h0M484.4 146.7h0M485.0 146.7h0M485.7 146.6h0M486.3 146.6h0M487.0 146.5h0M487.6 146.5h0M488.3 146.4h0M488.9 146.4h0M489.6 146.3h0M490.2 146.3h0M490.9 146.2h0M491.5 146.2h0M492.2 146.1h0M492.8 146.1h0M493.5 146.0h0M494.1 146.0h0M494.8 145.9h0M495.4 145.8h0M496.1 145.8h0M496.7 145.7h0M497.4 145.7h0M498.0 145.6h0M498.7 145.5h0M499.3 145.5h0M500.0 145.4h0M500.6 145.4h0M501.3 145.3h0M501.9 145.2h0M502.6 145.2h0M503.2 145.1h0M503.9 145.0h0M504.5 145.0h0M505.2 144.9h0M505.8 144.8h0M506.5 144.8h0M507.1 144.7h0M507.8 144.6h0M508.4 144.6h0M509.1 144.5h0M509.7 144.4h0M510.4 144.3h0M511.0 144.3h0M511.7 144.2h0M512.3 144.1h0M513.0 144.0h0M513.6 144.0h0M514.3 143.9h0M514.9 143.8h0M515.6 143.7h0M516.2 143.7h0M516.9 143.6h0M517.5 143.5h0M518.2 143.4h0M518.8 143.4h0M519.5 143.3h0M520.1 143.2h0M520.8 143.1h0M521.4 143.0h0M522.1 142.9h0M522.7 142.9h0M523.4 142.8h0M524.0 142.7h0M524.7 142.6h0M525.3 142.5h0M526.0 142.4h0M526.6 142.4h0M527.3 142.3h0M527.9 142.2h0M528.6 142.1h0M529.2 142.0h0M529.9 141.9h0M530.5 141.8h0M531.2 141.7h0M531.8 141.6h0M532.5 141.5h0M533.1 141.4h0M533.8 141.4h0M534.4 141.3h0M535.1 141.2h0M535.7 141.1h0M536.4 141.0h0M537.0 140.9h0M537.7 140.8h0M538.3 140.7h0M538.9 136.7h0M539.5 136.7h0M540.2 136.8h0M540.8 136.8h0M541.5 136.8h0M542.1 136.7h0M542.8 136.7h0M543.4 136.7h0M544.1 136.6h0M544.7 136.5h0M545.4 136.4h0M546.0 136.3h0M546.7 136.2h0M547.3 136.1h0M548.0 135.9h0M548.6 135.7h0M549.3 135.6h0M549.9 135.4h0M550.6 135.1h0M551.2 134.9h0M551.9 134.6h0M552.5 134.4h0M553.2 134.1h0M553.8 133.7h0M554.5 133.4h0M555.1 133.0h0M555.8 132.7h0M556.4 132.3h0M557.1 131.9h0M557.7 131.4h0M558.4 131.0h0M559.0 130.5h0M559.7 130.0h0M560.3 129.4h0M561.0 128.9h0M561.6 128.3h0M562.3 127.8h0M562.9 127.2h0M563.6 126.5h0M564.2 125.9h0M564.9 125.2h0M565.5 124.6h0M566.2 123.9h0M566.8 123.2h0M567.5 122.4h0M568.1 121.7h0M568.8 121.0h0M569.4 120.2h0M570.1 119.5h0M570.7 118.7h0M571.4 117.9h0M572.0 117.2h0M572.7 116.4h0M573.3 115.6h0M574.0 114.8h0M574.6 114.1h0M575.3 113.3h0M575.9 112.5h0M576.6 111.8h0M577.2 111.0h0M577.9 110.3h0M578.5 109.6h0M579.2 108.9h0M579.8 108.2h0M580.5 107.6h0M581.1 106.9h0M581.8 106.3h0M582.4 105.6h0M583.1 105.0h0M583.7 104.4h0M584.4 103.9h0M585.0 103.3h0M585.7 102.7h0M586.3 102.2h0M587.0 101.7h0M587.6 101.1h0M588.3 100.6h0M588.9 100.1h0M589.6 99.6h0M590.2 99.2h0M590.9 98.7h0M591.5 98.2h0M592.2 97.8h0M592.8 97.3h0M593.5 96.9h0M594.1 96.5h0M594.8 96.0h0M595.4 95.6h0M596.1 95.2h0M596.7 94.8h0M597.4 94.4h0M598.0 94.0h0M598.7 93.6h0M599.3 93.3h0M600.0 92.9h0M600.6 92.5h0M601.3 92.2h0M601.9 91.8h0M602.6 91.4h0M603.2 91.1h0M603.9 90.8h0M604.5 90.4h0M605.2 90.1h0M605.8 89.8h0M606.5 89.4h0M607.1 89.1h0M607.8 88.8h0M608.4 88.5h0M609.1 88.2h0M609.7 87.9h0M610.4 87.6h0M611.0 87.3h0M611.7 87.0h0M612.3 86.7h0M613.0 86.4h0M613.6 86.1h0M614.3 85.8h0M614.9 85.5h0M615.6 85.2h0M616.2 85.0h0M616.9 84.7h0M617.5 84.4h0M618.2 84.2h0M618.8 83.9h0M619.5 83.6h0M620.1 83.4h0M620.8 83.1h0M621.4 82.9h0M622.1 82.6h0M622.7 82.4h0M623.4 82.2h0M624.0 81.9h0M624.7 81.7h0M625.3 81.4h0M626.0 81.2h0M626.6 81.0h0M627.3 80.8h0M627.9 80.5h0M628.6 80.3h0M629.2 80.1h0M629.9 79.9h0M630.5 79.7h0M631.2 79.5h0M631.8 79.3h0M632.5 79.1h0M633.1 78.9h0M633.8 78.7h0M634.4 78.5h0M635.1 78.3h0M635.7 78.1h0M636.4 77.9h0M637.0 77.7h0M637.7 77.5h0M638.3 77.3h0M639.0 77.2h0M639.6 77.0h0M640.3 76.8h0M640.9 76.6h0M641.6 76.5h0M642.2 76.3h0M642.9 76.2h0M643.5 76.1h0M644.2 75.9h0M644.8 75.8h0M645.5 75.8h0M646.1 75.7h0" fill="none" stroke="#000000" stroke-width="1.45" stroke-linecap="round"/>
<path d="M646.70,56.70 L645.17,56.40 L643.64,56.13 L642.12,55.88 L640.61,55.67 L639.09,55.48 L637.58,55.31 L636.07,55.17 L634.57,55.05 L633.07,54.96 L631.57,54.89 L630.07,54.83 L628.58,54.80 L627.08,54.79 L625.59,54.79 L624.10,54.81 L622.61,54.85 L621.13,54.90 L619.64,54.97 L618.15,55.05 L616.67,55.14 L615.18,55.25 L613.70,55.36 L612.21,55.49 L610.73,55.62 L609.24,55.76 L607.75,55.91 L606.26,56.06 L604.77,56.22 L603.28,56.38 L601.79,56.54 L600.29,56.71 L598.79,56.88 L597.29,57.04 L595.79,57.21 L594.28,57.38 L592.77,57.54 L591.26,57.70 L589.75,57.87 L588.23,58.03 L586.72,58.20 L585.20,58.37 L583.68,58.54 L582.16,58.72 L580.65,58.91 L579.13,59.10 L577.62,59.30 L576.10,59.50 L574.59,59.72 L573.08,59.95 L571.58,60.19 L570.07,60.44 L568.57,60.70 L567.08,60.98 L565.59,61.27 L564.10,61.58 L562.62,61.91 L561.14,62.25 L559.68,62.61 L558.21,62.99 L556.76,63.40 L555.31,63.82 L553.87,64.26 L552.43,64.73 L551.01,65.23 L549.59,65.74 L548.19,66.29 L546.79,66.86 L545.40,67.46 L544.02,68.08 L542.66,68.74 L541.31,69.43 L539.97,70.14 L538.66,70.89 L537.36,71.67 L536.09,72.47 L534.84,73.31 L533.62,74.18 L532.43,75.09 L531.27,76.02 L530.14,76.99 L529.05,77.98 L527.99,79.02 L526.98,80.08 L526.00,81.18 L525.08,82.31 L524.19,83.48 L523.36,84.68 L522.58,85.91 L521.85,87.18 L521.17,88.49 L520.55,89.83 L519.98,91.20 L519.45,92.59 L518.97,94.02 L518.52,95.46 L518.11,96.93 L517.72,98.42 L517.36,99.91 L517.02,101.43 L516.70,102.95 L516.39,104.47 L516.08,106.00 L515.78,107.53 L515.49,109.06 L515.18,110.59 L514.87,112.11 L514.55,113.61 L514.21,115.11 L513.86,116.60 L513.48,118.06 L513.07,119.51 L512.63,120.94 L512.15,122.34 L511.64,123.72 L511.08,125.07 L510.47,126.39 L509.81,127.67 L509.10,128.92 L508.33,130.13 L507.51,131.31 L506.63,132.45 L505.71,133.55 L504.74,134.63 L503.73,135.66 L502.67,136.67 L501.58,137.64 L500.45,138.58 L499.29,139.49 L498.09,140.37 L496.87,141.22 L495.61,142.04 L494.33,142.83 L493.03,143.60 L491.70,144.34 L490.35,145.06 L488.99,145.76 L487.60,146.43 L486.20,147.09 L484.78,147.72 L483.35,148.34 L481.91,148.94 L480.46,149.52 L479.00,150.10 L477.54,150.65 L476.07,151.20 L474.60,151.73 L473.13,152.25 L471.66,152.77 L470.20,153.27 L468.73,153.77 L467.28,154.27 L465.83,154.76 L464.39,155.24 L462.95,155.73 L461.53,156.21 L460.11,156.69 L458.69,157.16 L457.28,157.64 L455.88,158.12 L454.48,158.59 L453.08,159.07 L451.68,159.55 L450.29,160.03 L448.90,160.51 L447.50,160.99 L446.11,161.48 L444.71,161.97 L443.31,162.47 L441.91,162.97 L440.50,163.47 L439.09,163.99 L437.68,164.50 L436.26,165.03 L434.83,165.56 L433.39,166.10 L431.95,166.64 L430.50,167.20" fill="none" stroke="#ff0000" stroke-width="0.5" stroke-opacity="0.4"/>
<path d="M430.50,167.20 L432.03,167.37 L433.56,167.54 L435.10,167.69 L436.63,167.83 L438.16,167.96 L439.70,168.08 L441.23,168.19 L442.77,168.29 L444.31,168.38 L445.85,168.46 L447.38,168.52 L448.92,168.58 L450.46,168.63 L452.00,168.67 L453.54,168.70 L455.08,168.72 L456.62,168.72 L458.16,168.72 L459.70,168.71 L461.25,168.69 L462.79,168.67 L464.33,168.63 L465.87,168.58 L467.41,168.52 L468.95,168.46 L470.49,168.39 L472.03,168.30 L473.57,168.21 L475.11,168.11 L476.65,168.00 L478.19,167.89 L479.73,167.76 L481.27,167.63 L482.81,167.49 L484.34,167.34 L485.88,167.18 L487.42,167.02 L488.95,166.85 L490.49,166.67 L492.02,166.48 L493.55,166.28 L495.08,166.08 L496.62,165.87 L498.15,165.65 L499.67,165.43 L501.20,165.20 L502.73,164.96 L504.25,164.71 L505.78,164.46 L507.30,164.20 L508.82,163.94 L510.34,163.67 L511.86,163.39 L513.38,163.11 L514.89,162.82 L516.41,162.52 L517.92,162.22 L519.43,161.91 L520.94,161.59 L522.45,161.27 L523.95,160.95 L525.46,160.62 L526.96,160.28 L528.46,159.94 L529.96,159.59 L531.45,159.24 L532.95,158.88 L534.44,158.52 L535.93,158.15 L537.42,157.78 L538.90,157.40" fill="none" stroke="#ff0000" stroke-width="0.5" stroke-opacity="0.4"/>
<path d="M538.90,151.80 L540.71,151.81 L542.43,151.73 L544.08,151.54 L545.66,151.26 L547.16,150.89 L548.60,150.43 L549.97,149.89 L551.28,149.27 L552.52,148.58 L553.72,147.82 L554.86,146.99 L555.95,146.10 L557.00,145.16 L558.00,144.15 L558.96,143.10 L559.88,142.00 L560.78,140.87 L561.64,139.69 L562.47,138.48 L563.28,137.23 L564.07,135.97 L564.84,134.68 L565.59,133.37 L566.33,132.05 L567.07,130.71 L567.79,129.37 L568.51,128.01 L569.22,126.65 L569.94,125.29 L570.65,123.92 L571.36,122.56 L572.08,121.19 L572.81,119.83 L573.54,118.47 L574.28,117.12 L575.03,115.78 L575.80,114.45 L576.58,113.13 L577.38,111.83 L578.20,110.54 L579.04,109.27 L579.90,108.02 L580.78,106.78 L581.68,105.57 L582.60,104.37 L583.54,103.18 L584.50,102.02 L585.47,100.87 L586.46,99.73 L587.47,98.61 L588.49,97.50 L589.53,96.41 L590.59,95.34 L591.66,94.27 L592.75,93.22 L593.84,92.19 L594.96,91.16 L596.08,90.16 L597.22,89.16 L598.37,88.17 L599.54,87.20 L600.71,86.24 L601.90,85.29 L603.09,84.35 L604.30,83.42 L605.51,82.50 L606.74,81.59 L607.97,80.69 L609.21,79.80 L610.46,78.92 L611.72,78.05 L612.98,77.19 L614.25,76.33 L615.52,75.48 L616.80,74.64 L618.09,73.81 L619.38,72.99 L620.67,72.17 L621.97,71.35 L623.27,70.55 L624.57,69.75 L625.88,68.95 L627.19,68.16 L628.50,67.37 L629.80,66.59 L631.11,65.82 L632.42,65.04 L633.73,64.27 L635.04,63.51 L636.35,62.74 L637.65,61.98 L638.96,61.22 L640.26,60.46 L641.55,59.71 L642.85,58.96 L644.14,58.20 L645.42,57.45 L646.70,56.70" fill="none" stroke="#ff0000" stroke-width="0.5" stroke-opacity="0.4"/>
<path d="M430.5 167.2h0M431.2 167.0h0M431.8 166.7h0M432.5 166.5h0M433.1 166.2h0M433.8 166.0h0M434.4 165.7h0M435.1 165.5h0M435.7 165.2h0M436.4 165.0h0M437.0 164.8h0M437.7 164.5h0M438.3 164.3h0M439.0 164.0h0M439.6 163.8h0M440.3 163.6h0M440.9 163.3h0M441.6 163.1h0M442.2 162.9h0M442.9 162.6h0M443.5 162.4h0M444.2 162.2h0M444.8 161.9h0M445.5 161.7h0M446.1 161.5h0M446.8 161.3h0M447.4 161.0h0M448.1 160.8h0M448.7 160.6h0M449.4 160.4h0M450.0 160.1h0M450.7 159.9h0M451.3 159.7h0M452.0 159.5h0M452.6 159.2h0M453.3 159.0h0M453.9 158.8h0M454.6 158.6h0M455.2 158.3h0M455.9 158.1h0M456.5 157.9h0M457.2 157.7h0M457.8 157.5h0M458.5 157.2h0M459.1 157.0h0M459.8 156.8h0M460.4 156.6h0M461.1 156.4h0M461.7 156.1h0M462.4 155.9h0M463.0 155.7h0M463.7 155.5h0M464.3 155.3h0M465.0 155.1h0M465.6 154.8h0M466.3 154.6h0M466.9 154.4h0M467.6 154.2h0M468.2 154.0h0M468.9 153.7h0M469.5 153.5h0M470.2 153.3h0M470.8 153.1h0M471.5 152.8h0M472.1 152.6h0M472.8 152.4h0M473.4 152.2h0M474.1 151.9h0M474.7 151.7h0M475.4 151.5h0M476.0 151.2h0M476.7 151.0h0M477.3 150.7h0M478.0 150.5h0M478.6 150.3h0M479.3 150.0h0M479.9 149.7h0M480.6 149.5h0M481.2 149.2h0M481.9 149.0h0M482.5 148.7h0M483.2 148.4h0M483.8 148.1h0M484.5 147.9h0M485.1 147.6h0M485.8 147.3h0M486.4 147.0h0M487.1 146.7h0M487.7 146.4h0M488.4 146.1h0M489.0 145.7h0M489.7 145.4h0M490.3 145.1h0M491.0 144.7h0M491.6 144.4h0M492.3 144.0h0M492.9 143.7h0M493.6 143.3h0M494.2 142.9h0M494.9 142.5h0M495.5 142.1h0M496.2 141.7h0M496.8 141.3h0M497.5 140.8h0M498.1 140.4h0M498.8 139.9h0M499.4 139.4h0M500.1 138.9h0M500.7 138.4h0M501.4 137.8h0M502.0 137.3h0M502.7 136.7h0M503.3 136.1h0M504.0 135.4h0M504.6 134.8h0M505.3 134.1h0M505.9 133.3h0M506.6 132.5h0M507.2 131.7h0M507.9 130.8h0M508.5 129.9h0M509.2 128.8h0M509.8 127.7h0M510.5 126.4h0M511.1 125.0h0M511.8 123.4h0M512.4 121.6h0M513.1 119.6h0M513.7 117.2h0M514.4 114.5h0M515.0 111.5h0M515.7 108.2h0M516.3 104.9h0M517.0 101.7h0M517.6 98.9h0M518.3 96.4h0M518.9 94.2h0M519.6 92.3h0M520.2 90.7h0M520.9 89.2h0M521.5 87.8h0M522.2 86.6h0M522.8 85.5h0M523.5 84.5h0M524.1 83.6h0M524.8 82.7h0M525.4 81.9h0M526.1 81.1h0M526.7 80.4h0M527.4 79.7h0M528.0 79.0h0M528.7 78.4h0M529.3 77.7h0M530.0 77.2h0M530.6 76.6h0M531.3 76.0h0M531.9 75.5h0M532.6 75.0h0M533.2 74.5h0M533.9 74.0h0M534.5 73.6h0M535.2 73.1h0M535.8 72.7h0M536.5 72.2h0M537.1 71.8h0M537.8 71.4h0M538.4 71.0h0M539.1 70.7h0M539.7 70.3h0M540.4 69.9h0M541.0 69.6h0M541.7 69.3h0M542.3 68.9h0M543.0 68.6h0M543.6 68.3h0M544.3 68.0h0M544.9 67.7h0M545.6 67.4h0M546.2 67.1h0M546.9 66.8h0M547.5 66.6h0M548.2 66.3h0M548.8 66.0h0M549.5 65.8h0M550.1 65.6h0M550.8 65.3h0M551.4 65.1h0M552.1 64.9h0M552.7 64.6h0M553.4 64.4h0M554.0 64.2h0M554.7 64.0h0M555.3 63.8h0M556.0 63.6h0M556.6 63.4h0M557.3 63.3h0M557.9 63.1h0M558.6 62.9h0M559.2 62.7h0M559.9 62.6h0M560.5 62.4h0M561.2 62.2h0M561.8 62.1h0M562.5 61.9h0M563.1 61.8h0M563.8 61.7h0M564.4 61.5h0M565.1 61.4h0M565.7 61.2h0M566.4 61.1h0M567.0 61.0h0M567.7 60.9h0M568.3 60.8h0M569.0 60.6h0M569.6 60.5h0M570.3 60.4h0M570.9 60.3h0M571.6 60.2h0M572.2 60.1h0M572.9 60.0h0M573.5 59.9h0M574.2 59.8h0M574.8 59.7h0M575.5 59.6h0M576.1 59.5h0M576.8 59.4h0M577.4 59.3h0M578.1 59.2h0M578.7 59.2h0M579.4 59.1h0M580.0 59.0h0M580.7 58.9h0M581.3 58.8h0M582.0 58.7h0M582.6 58.7h0M583.3 58.6h0M583.9 58.5h0M584.6 58.4h0M585.2 58.4h0M585.9 58.3h0M586.5 58.2h0M587.2 58.2h0M587.8 58.1h0M588.5 58.0h0M589.1 57.9h0M589.8 57.9h0M590.4 57.8h0M591.1 57.7h0M591.7 57.7h0M592.4 57.6h0M593.0 57.5h0M593.7 57.4h0M594.3 57.4h0M595.0 57.3h0M595.6 57.2h0M596.3 57.2h0M596.9 57.1h0M597.6 57.0h0M598.2 56.9h0M598.9 56.9h0M599.5 56.8h0M600.2 56.7h0M600.8 56.7h0M601.5 56.6h0M602.1 56.5h0M602.8 56.4h0M603.4 56.4h0M604.1 56.3h0M604.7 56.2h0M605.4 56.2h0M606.0 56.1h0M606.7 56.0h0M607.3 56.0h0M608.0 55.9h0M608.6 55.8h0M609.3 55.8h0M609.9 55.7h0M610.6 55.6h0M611.2 55.6h0M611.9 55.5h0M612.5 55.5h0M613.2 55.4h0M613.8 55.4h0M614.5 55.3h0M615.1 55.3h0M615.8 55.2h0M616.4 55.2h0M617.1 55.1h0M617.7 55.1h0M618.4 55.0h0M619.0 55.0h0M619.7 55.0h0M620.3 54.9h0M621.0 54.9h0M621.6 54.9h0M622.3 54.9h0M622.9 54.8h0M623.6 54.8h0M624.2 54.8h0M624.9 54.8h0M625.5 54.8h0M626.2 54.8h0M626.8 54.8h0M627.5 54.8h0M628.1 54.8h0M628.8 54.8h0M629.4 54.8h0M630.1 54.8h0M630.7 54.9h0M631.4 54.9h0M632.0 54.9h0M632.7 54.9h0M633.3 55.0h0M634.0 55.0h0M634.6 55.1h0M635.3 55.1h0M635.9 55.2h0M636.6 55.2h0M637.2 55.3h0M637.9 55.3h0M638.5 55.4h0M639.2 55.5h0M639.8 55.6h0M640.5 55.6h0M641.1 55.7h0M641.8 55.8h0M642.4 55.9h0M643.1 56.0h0M643.7 56.1h0M644.4 56.2h0M645.0 56.4h0M645.7 56.5h0M646.3 56.6h0M430.5 167.2h0M431.2 167.3h0M431.8 167.3h0M432.5 167.4h0M433.1 167.5h0M433.8 167.6h0M434.4 167.6h0M435.1 167.7h0M435.7 167.7h0M436.4 167.8h0M437.0 167.9h0M437.7 167.9h0M438.3 168.0h0M439.0 168.0h0M439.6 168.1h0M440.3 168.1h0M440.9 168.2h0M441.6 168.2h0M442.2 168.3h0M442.9 168.3h0M443.5 168.3h0M444.2 168.4h0M444.8 168.4h0M445.5 168.4h0M446.1 168.5h0M446.8 168.5h0M447.4 168.5h0M448.1 168.6h0M448.7 168.6h0M449.4 168.6h0M450.0 168.6h0M450.7 168.6h0M451.3 168.7h0M452.0 168.7h0M452.6 168.7h0M453.3 168.7h0M453.9 168.7h0M454.6 168.7h0M455.2 168.7h0M455.9 168.7h0M456.5 168.7h0M457.2 168.7h0M457.8 168.7h0M458.5 168.7h0M459.1 168.7h0M459.8 168.7h0M460.4 168.7h0M461.1 168.7h0M461.7 168.7h0M462.4 168.7h0M463.0 168.7h0M463.7 168.6h0M464.3 168.6h0M465.0 168.6h0M465.6 168.6h0M466.3 168.6h0M466.9 168.5h0M467.6 168.5h0M468.2 168.5h0M468.9 168.5h0M469.5 168.4h0M470.2 168.4h0M470.8 168.4h0M471.5 168.3h0M472.1 168.3h0M472.8 168.3h0M473.4 168.2h0M474.1 168.2h0M474.7 168.1h0M475.4 168.1h0M476.0 168.1h0M476.7 168.0h0M477.3 168.0h0M478.0 167.9h0M478.6 167.9h0M479.3 167.8h0M479.9 167.7h0M480.6 167.7h0M481.2 167.6h0M481.9 167.6h0M482.5 167.5h0M483.2 167.5h0M483.8 167.4h0M484.5 167.3h0M485.1 167.3h0M485.8 167.2h0M486.4 167.1h0M487.1 167.1h0M487.7 167.0h0M488.4 166.9h0M489.0 166.8h0M489.7 166.8h0M490.3 166.7h0M491.0 166.6h0M491.6 166.5h0M492.3 166.4h0M492.9 166.4h0M493.6 166.3h0M494.2 166.2h0M494.9 166.1h0M495.5 166.0h0M496.2 165.9h0M496.8 165.8h0M497.5 165.8h0M498.1 165.7h0M498.8 165.6h0M499.4 165.5h0M500.1 165.4h0M500.7 165.3h0M501.4 165.2h0M502.0 165.1h0M502.7 165.0h0M503.3 164.9h0M504.0 164.8h0M504.6 164.7h0M505.3 164.6h0M505.9 164.4h0M506.6 164.3h0M507.2 164.2h0M507.9 164.1h0M508.5 164.0h0M509.2 163.9h0M509.8 163.8h0M510.5 163.6h0M511.1 163.5h0M511.8 163.4h0M512.4 163.3h0M513.1 163.2h0M513.7 163.0h0M514.4 162.9h0M515.0 162.8h0M515.7 162.7h0M516.3 162.5h0M517.0 162.4h0M517.6 162.3h0M518.3 162.2h0M518.9 162.0h0M519.6 161.9h0M520.2 161.7h0M520.9 161.6h0M521.5 161.5h0M522.2 161.3h0M522.8 161.2h0M523.5 161.1h0M524.1 160.9h0M524.8 160.8h0M525.4 160.6h0M526.1 160.5h0M526.7 160.3h0M527.4 160.2h0M528.0 160.0h0M528.7 159.9h0M529.3 159.7h0M530.0 159.6h0M530.6 159.4h0M531.3 159.3h0M531.9 159.1h0M532.6 159.0h0M533.2 158.8h0M533.9 158.7h0M534.5 158.5h0M535.2 158.3h0M535.8 158.2h0M536.5 158.0h0M537.1 157.9h0M537.8 157.7h0M538.4 157.5h0M538.9 151.8h0M539.5 151.8h0M540.2 151.8h0M540.8 151.8h0M541.5 151.8h0M542.1 151.7h0M542.8 151.7h0M543.4 151.6h0M544.1 151.5h0M544.7 151.4h0M545.4 151.3h0M546.0 151.2h0M546.7 151.0h0M547.3 150.8h0M548.0 150.6h0M548.6 150.4h0M549.3 150.2h0M549.9 149.9h0M550.6 149.6h0M551.2 149.3h0M551.9 148.9h0M552.5 148.6h0M553.2 148.2h0M553.8 147.7h0M554.5 147.3h0M555.1 146.8h0M555.8 146.2h0M556.4 145.7h0M557.1 145.1h0M557.7 144.4h0M558.4 143.7h0M559.0 143.0h0M559.7 142.2h0M560.3 141.4h0M561.0 140.6h0M561.6 139.7h0M562.3 138.7h0M562.9 137.7h0M563.6 136.7h0M564.2 135.7h0M564.9 134.6h0M565.5 133.4h0M566.2 132.3h0M566.8 131.1h0M567.5 129.9h0M568.1 128.7h0M568.8 127.5h0M569.4 126.2h0M570.1 125.0h0M570.7 123.7h0M571.4 122.5h0M572.0 121.3h0M572.7 120.0h0M573.3 118.8h0M574.0 117.6h0M574.6 116.5h0M575.3 115.3h0M575.9 114.2h0M576.6 113.1h0M577.2 112.0h0M577.9 111.0h0M578.5 110.0h0M579.2 109.0h0M579.8 108.1h0M580.5 107.2h0M581.1 106.3h0M581.8 105.4h0M582.4 104.6h0M583.1 103.7h0M583.7 102.9h0M584.4 102.1h0M585.0 101.4h0M585.7 100.6h0M586.3 99.9h0M587.0 99.1h0M587.6 98.4h0M588.3 97.7h0M588.9 97.0h0M589.6 96.3h0M590.2 95.7h0M590.9 95.0h0M591.5 94.4h0M592.2 93.7h0M592.8 93.1h0M593.5 92.5h0M594.1 91.9h0M594.8 91.3h0M595.4 90.7h0M596.1 90.1h0M596.7 89.6h0M597.4 89.0h0M598.0 88.4h0M598.7 87.9h0M599.3 87.4h0M600.0 86.8h0M600.6 86.3h0M601.3 85.8h0M601.9 85.2h0M602.6 84.7h0M603.2 84.2h0M603.9 83.7h0M604.5 83.2h0M605.2 82.7h0M605.8 82.2h0M606.5 81.8h0M607.1 81.3h0M607.8 80.8h0M608.4 80.3h0M609.1 79.9h0M609.7 79.4h0M610.4 79.0h0M611.0 78.5h0M611.7 78.1h0M612.3 77.6h0M613.0 77.2h0M613.6 76.7h0M614.3 76.3h0M614.9 75.9h0M615.6 75.4h0M616.2 75.0h0M616.9 74.6h0M617.5 74.2h0M618.2 73.7h0M618.8 73.3h0M619.5 72.9h0M620.1 72.5h0M620.8 72.1h0M621.4 71.7h0M622.1 71.3h0M622.7 70.9h0M623.4 70.5h0M624.0 70.1h0M624.7 69.7h0M625.3 69.3h0M626.0 68.9h0M626.6 68.5h0M627.3 68.1h0M627.9 67.7h0M628.6 67.3h0M629.2 66.9h0M629.9 66.5h0M630.5 66.2h0M631.2 65.8h0M631.8 65.4h0M632.5 65.0h0M633.1 64.6h0M633.8 64.2h0M634.4 63.9h0M635.1 63.5h0M635.7 63.1h0M636.4 62.7h0M637.0 62.3h0M637.7 62.0h0M638.3 61.6h0M639.0 61.2h0M639.6 60.8h0M640.3 60.4h0M640.9 60.1h0M641.6 59.7h0M642.2 59.3h0M642.9 58.9h0M643.5 58.5h0M644.2 58.2h0M644.8 57.8h0M645.5 57.4h0M646.1 57.0h0" fill="none" stroke="#ff0000" stroke-width="1.45" stroke-linecap="round"/>
<path d="M646.70,42.00 L645.37,41.31 L644.04,40.63 L642.69,39.98 L641.34,39.34 L639.98,38.72 L638.61,38.12 L637.23,37.54 L635.84,36.97 L634.45,36.42 L633.05,35.89 L631.64,35.37 L630.22,34.88 L628.80,34.40 L627.37,33.94 L625.94,33.49 L624.49,33.06 L623.05,32.65 L621.59,32.26 L620.13,31.89 L618.67,31.53 L617.20,31.19 L615.72,30.86 L614.24,30.55 L612.76,30.26 L611.27,29.99 L609.78,29.73 L608.28,29.49 L606.78,29.27 L605.28,29.07 L603.77,28.88 L602.26,28.70 L600.75,28.55 L599.24,28.41 L597.72,28.28 L596.20,28.18 L594.68,28.09 L593.16,28.01 L591.63,27.96 L590.11,27.92 L588.58,27.89 L587.05,27.88 L585.52,27.89 L583.99,27.92 L582.47,27.96 L580.94,28.01 L579.41,28.09 L577.88,28.17 L576.35,28.28 L574.83,28.40 L573.30,28.54 L571.78,28.69 L570.26,28.86 L568.73,29.04 L567.22,29.24 L565.70,29.45 L564.19,29.69 L562.67,29.93 L561.17,30.19 L559.66,30.47 L558.16,30.77 L556.66,31.07 L555.16,31.40 L553.67,31.74 L552.19,32.09 L550.70,32.46 L549.22,32.85 L547.75,33.25 L546.28,33.66 L544.82,34.09 L543.36,34.54 L541.91,35.00 L540.47,35.49 L539.05,35.99 L537.64,36.52 L536.25,37.07 L534.88,37.66 L533.53,38.27 L532.21,38.92 L530.92,39.60 L529.67,40.32 L528.44,41.08 L527.26,41.88 L526.12,42.73 L525.01,43.63 L523.96,44.57 L522.95,45.56 L521.99,46.61 L521.09,47.71 L520.23,48.86 L519.42,50.06 L518.65,51.30 L517.92,52.58 L517.23,53.89 L516.57,55.24 L515.94,56.61 L515.34,58.01 L514.76,59.43 L514.20,60.87 L513.66,62.32 L513.14,63.78 L512.63,65.25 L512.12,66.73 L511.62,68.21 L511.13,69.69 L510.63,71.17 L510.13,72.65 L509.63,74.12 L509.11,75.58 L508.58,77.03 L508.03,78.47 L507.47,79.90 L506.89,81.32 L506.30,82.72 L505.69,84.11 L505.06,85.49 L504.41,86.85 L503.75,88.21 L503.07,89.55 L502.37,90.88 L501.66,92.20 L500.93,93.52 L500.18,94.82 L499.41,96.11 L498.62,97.39 L497.82,98.66 L497.01,99.92 L496.17,101.17 L495.32,102.41 L494.46,103.65 L493.59,104.87 L492.70,106.09 L491.80,107.30 L490.89,108.50 L489.96,109.69 L489.03,110.88 L488.08,112.06 L487.13,113.24 L486.17,114.40 L485.20,115.57 L484.22,116.72 L483.23,117.87 L482.24,119.02 L481.24,120.16 L480.24,121.29 L479.23,122.42 L478.22,123.55 L477.20,124.67 L476.18,125.79 L475.16,126.91 L474.13,128.02 L473.10,129.13 L472.06,130.23 L471.02,131.33 L469.98,132.43 L468.94,133.53 L467.90,134.63 L466.85,135.72 L465.80,136.81 L464.75,137.90 L463.70,138.99 L462.65,140.08 L461.59,141.17 L460.54,142.26 L459.49,143.35 L458.44,144.43 L457.38,145.52 L456.33,146.61 L455.28,147.70 L454.23,148.79 L453.18,149.88 L452.14,150.97 L451.09,152.06 L450.05,153.16 L449.01,154.26 L447.97,155.36 L446.94,156.46 L445.91,157.56 L444.88,158.67 L443.85,159.78 L442.83,160.89 L441.82,162.01 L440.81,163.13 L439.80,164.26 L438.80,165.39 L437.80,166.52 L436.81,167.66 L435.83,168.80 L434.85,169.95 L433.88,171.10 L432.91,172.26 L431.95,173.43 L431.00,174.60" fill="none" stroke="#0000ff" stroke-width="0.5" stroke-opacity="0.4"/>
<path d="M431.00,174.60 L432.13,175.74 L433.27,176.85 L434.44,177.92 L435.62,178.95 L436.81,179.94 L438.03,180.90 L439.25,181.82 L440.50,182.71 L441.76,183.57 L443.03,184.39 L444.32,185.18 L445.62,185.93 L446.94,186.65 L448.27,187.34 L449.61,188.00 L450.96,188.63 L452.33,189.22 L453.70,189.79 L455.09,190.33 L456.49,190.84 L457.90,191.32 L459.32,191.77 L460.75,192.19 L462.19,192.59 L463.64,192.96 L465.10,193.30 L466.56,193.62 L468.03,193.91 L469.51,194.18 L471.00,194.42 L472.49,194.64 L473.99,194.84 L475.50,195.02 L477.01,195.17 L478.52,195.30 L480.05,195.40 L481.57,195.49 L483.10,195.56 L484.63,195.60 L486.17,195.63 L487.71,195.64 L489.25,195.63 L490.79,195.60 L492.33,195.55 L493.88,195.49 L495.42,195.41 L496.97,195.31 L498.52,195.20 L500.06,195.07 L501.61,194.93 L503.15,194.78 L504.70,194.61 L506.24,194.42 L507.78,194.23 L509.31,194.02 L510.85,193.80 L512.38,193.57 L513.90,193.33 L515.43,193.07 L516.94,192.81 L518.46,192.54 L519.96,192.26 L521.47,191.97 L522.96,191.67 L524.45,191.36 L525.93,191.05 L527.41,190.73 L528.87,190.41 L530.33,190.08 L531.78,189.74 L533.23,189.40 L534.66,189.06 L536.08,188.71 L537.50,188.36 L538.90,188.00" fill="none" stroke="#0000ff" stroke-width="0.5" stroke-opacity="0.4"/>
<path d="M538.90,161.30 L540.64,161.17 L542.31,160.96 L543.92,160.68 L545.46,160.32 L546.95,159.88 L548.38,159.38 L549.75,158.81 L551.07,158.18 L552.34,157.49 L553.56,156.74 L554.74,155.93 L555.86,155.07 L556.95,154.16 L558.00,153.20 L559.00,152.20 L559.97,151.15 L560.91,150.07 L561.81,148.94 L562.69,147.78 L563.53,146.59 L564.35,145.37 L565.15,144.12 L565.92,142.85 L566.68,141.56 L567.41,140.24 L568.14,138.91 L568.84,137.57 L569.54,136.21 L570.23,134.85 L570.91,133.47 L571.58,132.09 L572.24,130.71 L572.90,129.32 L573.56,127.92 L574.22,126.52 L574.87,125.12 L575.52,123.72 L576.18,122.31 L576.83,120.91 L577.49,119.51 L578.16,118.11 L578.83,116.72 L579.51,115.33 L580.19,113.95 L580.89,112.57 L581.60,111.21 L582.32,109.85 L583.05,108.50 L583.79,107.16 L584.56,105.84 L585.33,104.53 L586.13,103.23 L586.94,101.94 L587.76,100.66 L588.60,99.40 L589.45,98.14 L590.32,96.90 L591.20,95.67 L592.09,94.45 L593.00,93.24 L593.92,92.05 L594.85,90.86 L595.80,89.68 L596.76,88.51 L597.73,87.35 L598.70,86.20 L599.69,85.06 L600.70,83.92 L601.71,82.80 L602.73,81.68 L603.76,80.57 L604.80,79.47 L605.85,78.38 L606.90,77.29 L607.97,76.21 L609.04,75.14 L610.12,74.07 L611.21,73.01 L612.30,71.96 L613.40,70.91 L614.51,69.87 L615.62,68.83 L616.74,67.80 L617.87,66.78 L618.99,65.75 L620.13,64.74 L621.27,63.72 L622.41,62.71 L623.55,61.71 L624.70,60.70 L625.85,59.70 L627.01,58.71 L628.16,57.71 L629.32,56.72 L630.48,55.73 L631.64,54.75 L632.80,53.76 L633.97,52.78 L635.13,51.80 L636.29,50.82 L637.45,49.84 L638.61,48.86 L639.78,47.88 L640.93,46.90 L642.09,45.92 L643.25,44.94 L644.40,43.96 L645.55,42.98 L646.70,42.00" fill="none" stroke="#0000ff" stroke-width="0.5" stroke-opacity="0.4"/>
<path d="M431.0 174.6h0M431.6 173.8h0M432.3 173.0h0M432.9 172.2h0M433.6 171.4h0M434.2 170.7h0M434.9 169.9h0M435.5 169.1h0M436.2 168.4h0M436.8 167.6h0M437.5 166.9h0M438.1 166.1h0M438.8 165.4h0M439.4 164.7h0M440.1 163.9h0M440.7 163.2h0M441.4 162.5h0M442.0 161.8h0M442.7 161.0h0M443.3 160.3h0M444.0 159.6h0M444.6 158.9h0M445.3 158.2h0M445.9 157.5h0M446.6 156.8h0M447.2 156.1h0M447.9 155.4h0M448.5 154.7h0M449.2 154.1h0M449.8 153.4h0M450.5 152.7h0M451.1 152.0h0M451.8 151.3h0M452.4 150.6h0M453.1 150.0h0M453.7 149.3h0M454.4 148.6h0M455.0 147.9h0M455.7 147.3h0M456.3 146.6h0M457.0 145.9h0M457.6 145.2h0M458.3 144.6h0M458.9 143.9h0M459.6 143.2h0M460.2 142.6h0M460.9 141.9h0M461.5 141.2h0M462.2 140.5h0M462.8 139.9h0M463.5 139.2h0M464.1 138.5h0M464.8 137.9h0M465.4 137.2h0M466.1 136.5h0M466.7 135.8h0M467.4 135.1h0M468.0 134.5h0M468.7 133.8h0M469.3 133.1h0M470.0 132.4h0M470.6 131.7h0M471.3 131.0h0M471.9 130.4h0M472.6 129.7h0M473.2 129.0h0M473.9 128.3h0M474.5 127.6h0M475.2 126.9h0M475.8 126.2h0M476.5 125.4h0M477.1 124.7h0M477.8 124.0h0M478.4 123.3h0M479.1 122.6h0M479.7 121.8h0M480.4 121.1h0M481.0 120.4h0M481.7 119.6h0M482.3 118.9h0M483.0 118.1h0M483.6 117.4h0M484.3 116.6h0M484.9 115.9h0M485.6 115.1h0M486.2 114.3h0M486.9 113.5h0M487.5 112.7h0M488.2 111.9h0M488.8 111.1h0M489.5 110.3h0M490.1 109.5h0M490.8 108.6h0M491.4 107.8h0M492.1 106.9h0M492.7 106.0h0M493.4 105.1h0M494.0 104.2h0M494.7 103.3h0M495.3 102.4h0M496.0 101.4h0M496.6 100.5h0M497.3 99.5h0M497.9 98.5h0M498.6 97.4h0M499.2 96.4h0M499.9 95.3h0M500.5 94.2h0M501.2 93.0h0M501.8 91.9h0M502.5 90.6h0M503.1 89.4h0M503.8 88.1h0M504.4 86.8h0M505.1 85.4h0M505.7 84.0h0M506.4 82.5h0M507.0 80.9h0M507.7 79.3h0M508.3 77.6h0M509.0 75.9h0M509.6 74.0h0M510.3 72.2h0M510.9 70.2h0M511.6 68.3h0M512.2 66.3h0M512.9 64.5h0M513.5 62.6h0M514.2 60.9h0M514.8 59.2h0M515.5 57.6h0M516.1 56.1h0M516.8 54.8h0M517.4 53.5h0M518.1 52.3h0M518.7 51.1h0M519.4 50.1h0M520.0 49.1h0M520.7 48.2h0M521.3 47.4h0M522.0 46.6h0M522.6 45.9h0M523.3 45.2h0M523.9 44.6h0M524.6 44.0h0M525.2 43.4h0M525.9 42.9h0M526.5 42.4h0M527.2 41.9h0M527.8 41.5h0M528.5 41.0h0M529.1 40.6h0M529.8 40.2h0M530.4 39.9h0M531.1 39.5h0M531.7 39.2h0M532.4 38.8h0M533.0 38.5h0M533.7 38.2h0M534.3 37.9h0M535.0 37.6h0M535.6 37.3h0M536.3 37.1h0M536.9 36.8h0M537.6 36.5h0M538.2 36.3h0M538.9 36.0h0M539.5 35.8h0M540.2 35.6h0M540.8 35.4h0M541.5 35.1h0M542.1 34.9h0M542.8 34.7h0M543.4 34.5h0M544.1 34.3h0M544.7 34.1h0M545.4 33.9h0M546.0 33.7h0M546.7 33.5h0M547.3 33.4h0M548.0 33.2h0M548.6 33.0h0M549.3 32.8h0M549.9 32.7h0M550.6 32.5h0M551.2 32.3h0M551.9 32.2h0M552.5 32.0h0M553.2 31.8h0M553.8 31.7h0M554.5 31.5h0M555.1 31.4h0M555.8 31.3h0M556.4 31.1h0M557.1 31.0h0M557.7 30.8h0M558.4 30.7h0M559.0 30.6h0M559.7 30.5h0M560.3 30.3h0M561.0 30.2h0M561.6 30.1h0M562.3 30.0h0M562.9 29.9h0M563.6 29.8h0M564.2 29.7h0M564.9 29.6h0M565.5 29.5h0M566.2 29.4h0M566.8 29.3h0M567.5 29.2h0M568.1 29.1h0M568.8 29.0h0M569.4 29.0h0M570.1 28.9h0M570.7 28.8h0M571.4 28.7h0M572.0 28.7h0M572.7 28.6h0M573.3 28.5h0M574.0 28.5h0M574.6 28.4h0M575.3 28.4h0M575.9 28.3h0M576.6 28.3h0M577.2 28.2h0M577.9 28.2h0M578.5 28.1h0M579.2 28.1h0M579.8 28.1h0M580.5 28.0h0M581.1 28.0h0M581.8 28.0h0M582.4 28.0h0M583.1 27.9h0M583.7 27.9h0M584.4 27.9h0M585.0 27.9h0M585.7 27.9h0M586.3 27.9h0M587.0 27.9h0M587.6 27.9h0M588.3 27.9h0M588.9 27.9h0M589.6 27.9h0M590.2 27.9h0M590.9 27.9h0M591.5 28.0h0M592.2 28.0h0M592.8 28.0h0M593.5 28.0h0M594.1 28.1h0M594.8 28.1h0M595.4 28.1h0M596.1 28.2h0M596.7 28.2h0M597.4 28.3h0M598.0 28.3h0M598.7 28.4h0M599.3 28.4h0M600.0 28.5h0M600.6 28.5h0M601.3 28.6h0M601.9 28.7h0M602.6 28.7h0M603.2 28.8h0M603.9 28.9h0M604.5 29.0h0M605.2 29.1h0M605.8 29.1h0M606.5 29.2h0M607.1 29.3h0M607.8 29.4h0M608.4 29.5h0M609.1 29.6h0M609.7 29.7h0M610.4 29.8h0M611.0 30.0h0M611.7 30.1h0M612.3 30.2h0M613.0 30.3h0M613.6 30.4h0M614.3 30.6h0M614.9 30.7h0M615.6 30.8h0M616.2 31.0h0M616.9 31.1h0M617.5 31.3h0M618.2 31.4h0M618.8 31.6h0M619.5 31.7h0M620.1 31.9h0M620.8 32.1h0M621.4 32.2h0M622.1 32.4h0M622.7 32.6h0M623.4 32.8h0M624.0 32.9h0M624.7 33.1h0M625.3 33.3h0M626.0 33.5h0M626.6 33.7h0M627.3 33.9h0M627.9 34.1h0M628.6 34.3h0M629.2 34.5h0M629.9 34.8h0M630.5 35.0h0M631.2 35.2h0M631.8 35.4h0M632.5 35.7h0M633.1 35.9h0M633.8 36.2h0M634.4 36.4h0M635.1 36.7h0M635.7 36.9h0M636.4 37.2h0M637.0 37.5h0M637.7 37.7h0M638.3 38.0h0M639.0 38.3h0M639.6 38.6h0M640.3 38.9h0M640.9 39.2h0M641.6 39.5h0M642.2 39.8h0M642.9 40.1h0M643.5 40.4h0M644.2 40.7h0M644.8 41.0h0M645.5 41.4h0M646.1 41.7h0M431.0 174.6h0M431.6 175.3h0M432.3 175.9h0M432.9 176.5h0M433.6 177.2h0M434.2 177.7h0M434.9 178.3h0M435.5 178.9h0M436.2 179.4h0M436.8 180.0h0M437.5 180.5h0M438.1 181.0h0M438.8 181.5h0M439.4 182.0h0M440.1 182.4h0M440.7 182.9h0M441.4 183.3h0M442.0 183.8h0M442.7 184.2h0M443.3 184.6h0M444.0 185.0h0M444.6 185.4h0M445.3 185.7h0M445.9 186.1h0M446.6 186.5h0M447.2 186.8h0M447.9 187.2h0M448.5 187.5h0M449.2 187.8h0M449.8 188.1h0M450.5 188.4h0M451.1 188.7h0M451.8 189.0h0M452.4 189.3h0M453.1 189.5h0M453.7 189.8h0M454.4 190.1h0M455.0 190.3h0M455.7 190.6h0M456.3 190.8h0M457.0 191.0h0M457.6 191.2h0M458.3 191.4h0M458.9 191.7h0M459.6 191.9h0M460.2 192.0h0M460.9 192.2h0M461.5 192.4h0M462.2 192.6h0M462.8 192.8h0M463.5 192.9h0M464.1 193.1h0M464.8 193.2h0M465.4 193.4h0M466.1 193.5h0M466.7 193.7h0M467.4 193.8h0M468.0 193.9h0M468.7 194.0h0M469.3 194.2h0M470.0 194.3h0M470.6 194.4h0M471.3 194.5h0M471.9 194.6h0M472.6 194.7h0M473.2 194.7h0M473.9 194.8h0M474.5 194.9h0M475.2 195.0h0M475.8 195.1h0M476.5 195.1h0M477.1 195.2h0M477.8 195.2h0M478.4 195.3h0M479.1 195.3h0M479.7 195.4h0M480.4 195.4h0M481.0 195.5h0M481.7 195.5h0M482.3 195.5h0M483.0 195.6h0M483.6 195.6h0M484.3 195.6h0M484.9 195.6h0M485.6 195.6h0M486.2 195.6h0M486.9 195.6h0M487.5 195.6h0M488.2 195.6h0M488.8 195.6h0M489.5 195.6h0M490.1 195.6h0M490.8 195.6h0M491.4 195.6h0M492.1 195.6h0M492.7 195.5h0M493.4 195.5h0M494.0 195.5h0M494.7 195.4h0M495.3 195.4h0M496.0 195.4h0M496.6 195.3h0M497.3 195.3h0M497.9 195.2h0M498.6 195.2h0M499.2 195.1h0M499.9 195.1h0M500.5 195.0h0M501.2 195.0h0M501.8 194.9h0M502.5 194.8h0M503.1 194.8h0M503.8 194.7h0M504.4 194.6h0M505.1 194.6h0M505.7 194.5h0M506.4 194.4h0M507.0 194.3h0M507.7 194.2h0M508.3 194.2h0M509.0 194.1h0M509.6 194.0h0M510.3 193.9h0M510.9 193.8h0M511.6 193.7h0M512.2 193.6h0M512.9 193.5h0M513.5 193.4h0M514.2 193.3h0M514.8 193.2h0M515.5 193.1h0M516.1 192.9h0M516.8 192.8h0M517.4 192.7h0M518.1 192.6h0M518.7 192.5h0M519.4 192.4h0M520.0 192.2h0M520.7 192.1h0M521.3 192.0h0M522.0 191.9h0M522.6 191.7h0M523.3 191.6h0M523.9 191.5h0M524.6 191.3h0M525.2 191.2h0M525.9 191.1h0M526.5 190.9h0M527.2 190.8h0M527.8 190.6h0M528.5 190.5h0M529.1 190.3h0M529.8 190.2h0M530.4 190.0h0M531.1 189.9h0M531.7 189.7h0M532.4 189.6h0M533.0 189.4h0M533.7 189.3h0M534.3 189.1h0M535.0 189.0h0M535.6 188.8h0M536.3 188.7h0M536.9 188.5h0M537.6 188.3h0M538.2 188.2h0M538.9 161.3h0M539.6 161.3h0M540.2 161.2h0M540.9 161.1h0M541.5 161.1h0M542.2 161.0h0M542.8 160.9h0M543.5 160.8h0M544.1 160.6h0M544.8 160.5h0M545.4 160.3h0M546.1 160.2h0M546.7 160.0h0M547.4 159.8h0M548.0 159.5h0M548.7 159.3h0M549.3 159.0h0M550.0 158.7h0M550.6 158.4h0M551.3 158.1h0M551.9 157.7h0M552.6 157.4h0M553.2 157.0h0M553.9 156.5h0M554.5 156.1h0M555.2 155.6h0M555.8 155.1h0M556.5 154.6h0M557.1 154.0h0M557.8 153.4h0M558.4 152.8h0M559.1 152.2h0M559.7 151.5h0M560.4 150.7h0M561.0 150.0h0M561.7 149.2h0M562.3 148.3h0M563.0 147.4h0M563.6 146.5h0M564.3 145.5h0M564.9 144.5h0M565.6 143.5h0M566.2 142.4h0M566.9 141.3h0M567.5 140.1h0M568.2 138.9h0M568.8 137.7h0M569.5 136.4h0M570.1 135.1h0M570.8 133.8h0M571.4 132.5h0M572.1 131.1h0M572.7 129.7h0M573.4 128.4h0M574.0 127.0h0M574.7 125.6h0M575.3 124.2h0M576.0 122.8h0M576.6 121.4h0M577.3 120.0h0M577.9 118.7h0M578.6 117.3h0M579.2 116.0h0M579.9 114.6h0M580.5 113.3h0M581.2 112.1h0M581.8 110.8h0M582.5 109.6h0M583.1 108.4h0M583.8 107.2h0M584.4 106.1h0M585.1 105.0h0M585.7 103.9h0M586.4 102.9h0M587.0 101.8h0M587.7 100.8h0M588.3 99.8h0M589.0 98.9h0M589.6 97.9h0M590.3 97.0h0M590.9 96.1h0M591.6 95.2h0M592.2 94.3h0M592.9 93.4h0M593.5 92.6h0M594.2 91.8h0M594.8 90.9h0M595.5 90.1h0M596.1 89.3h0M596.8 88.5h0M597.4 87.7h0M598.1 87.0h0M598.7 86.2h0M599.4 85.5h0M600.0 84.7h0M600.7 84.0h0M601.3 83.2h0M602.0 82.5h0M602.6 81.8h0M603.3 81.1h0M603.9 80.4h0M604.6 79.7h0M605.2 79.0h0M605.9 78.4h0M606.5 77.7h0M607.2 77.0h0M607.8 76.4h0M608.5 75.7h0M609.1 75.1h0M609.8 74.4h0M610.4 73.8h0M611.1 73.2h0M611.7 72.5h0M612.4 71.9h0M613.0 71.3h0M613.7 70.7h0M614.3 70.1h0M615.0 69.5h0M615.6 68.9h0M616.3 68.3h0M616.9 67.7h0M617.6 67.1h0M618.2 66.5h0M618.9 65.9h0M619.5 65.3h0M620.2 64.7h0M620.8 64.1h0M621.5 63.6h0M622.1 63.0h0M622.8 62.4h0M623.4 61.8h0M624.1 61.3h0M624.7 60.7h0M625.4 60.1h0M626.0 59.6h0M626.7 59.0h0M627.3 58.5h0M628.0 57.9h0M628.6 57.3h0M629.3 56.8h0M629.9 56.2h0M630.6 55.7h0M631.2 55.1h0M631.9 54.6h0M632.5 54.0h0M633.2 53.5h0M633.8 52.9h0M634.5 52.4h0M635.1 51.8h0M635.8 51.3h0M636.4 50.7h0M637.1 50.2h0M637.7 49.6h0M638.4 49.1h0M639.0 48.5h0M639.7 48.0h0M640.3 47.4h0M641.0 46.9h0M641.6 46.3h0M642.3 45.8h0M642.9 45.2h0M643.6 44.7h0M644.2 44.1h0M644.9 43.6h0M645.5 43.0h0M646.2 42.5h0" fill="none" stroke="#0000ff" stroke-width="1.45" stroke-linecap="round"/>
<rect x="399.7" y="10.0" width="278.60" height="204.20" fill="none" stroke="#000" stroke-width="1.75"/>
<line x1="399.7" y1="112.10" x2="678.3" y2="112.10" stroke="#000" stroke-width="1.75"/>
<line x1="538.90" y1="10.0" x2="538.90" y2="214.2" stroke="#000" stroke-width="1.75"/>
<line x1="395.20" y1="214.20" x2="399.7" y2="214.20" stroke="#000" stroke-width="1.9"/>
<text transform="translate(392.80,217.50) scale(1,1.06)" text-anchor="end" font-size="9" font-weight="bold">-150</text>
<line x1="397.20" y1="197.18" x2="399.7" y2="197.18" stroke="#000" stroke-width="1.9"/>
<line x1="395.20" y1="180.17" x2="399.7" y2="180.17" stroke="#000" stroke-width="1.9"/>
<text transform="translate(392.80,183.47) scale(1,1.06)" text-anchor="end" font-size="9" font-weight="bold">-100</text>
<line x1="397.20" y1="163.15" x2="399.7" y2="163.15" stroke="#000" stroke-width="1.9"/>
<line x1="395.20" y1="146.13" x2="399.7" y2="146.13" stroke="#000" stroke-width="1.9"/>
<text transform="translate(392.80,149.43) scale(1,1.06)" text-anchor="end" font-size="9" font-weight="bold">-50</text>
<line x1="397.20" y1="129.12" x2="399.7" y2="129.12" stroke="#000" stroke-width="1.9"/>
<line x1="395.20" y1="112.10" x2="399.7" y2="112.10" stroke="#000" stroke-width="1.9"/>
<text transform="translate(392.80,115.40) scale(1,1.06)" text-anchor="end" font-size="9" font-weight="bold">0</text>
<line x1="397.20" y1="95.08" x2="399.7" y2="95.08" stroke="#000" stroke-width="1.9"/>
<line x1="395.20" y1="78.07" x2="399.7" y2="78.07" stroke="#000" stroke-width="1.9"/>
<text transform="translate(392.80,81.37) scale(1,1.06)" text-anchor="end" font-size="9" font-weight="bold">50</text>
<line x1="397.20" y1="61.05" x2="399.7" y2="61.05" stroke="#000" stroke-width="1.9"/>
<line x1="395.20" y1="44.03" x2="399.7" y2="44.03" stroke="#000" stroke-width="1.9"/>
<text transform="translate(392.80,47.33) scale(1,1.06)" text-anchor="end" font-size="9" font-weight="bold">100</text>
<line x1="397.20" y1="27.02" x2="399.7" y2="27.02" stroke="#000" stroke-width="1.9"/>
<line x1="395.20" y1="10.00" x2="399.7" y2="10.00" stroke="#000" stroke-width="1.9"/>
<text transform="translate(392.80,13.30) scale(1,1.06)" text-anchor="end" font-size="9" font-weight="bold">150</text>
<line x1="399.70" y1="214.2" x2="399.70" y2="218.70" stroke="#000" stroke-width="1.9"/>
<text transform="translate(399.70,228.50) scale(1,1.06)" text-anchor="middle" font-size="9" font-weight="bold">-600</text>
<line x1="422.92" y1="214.2" x2="422.92" y2="216.70" stroke="#000" stroke-width="1.9"/>
<line x1="446.13" y1="214.2" x2="446.13" y2="218.70" stroke="#000" stroke-width="1.9"/>
<text transform="translate(446.13,228.50) scale(1,1.06)" text-anchor="middle" font-size="9" font-weight="bold">-400</text>
<line x1="469.35" y1="214.2" x2="469.35" y2="216.70" stroke="#000" stroke-width="1.9"/>
<line x1="492.57" y1="214.2" x2="492.57" y2="218.70" stroke="#000" stroke-width="1.9"/>
<text transform="translate(492.57,228.50) scale(1,1.06)" text-anchor="middle" font-size="9" font-weight="bold">-200</text>
<line x1="515.78" y1="214.2" x2="515.78" y2="216.70" stroke="#000" stroke-width="1.9"/>
<line x1="539.00" y1="214.2" x2="539.00" y2="218.70" stroke="#000" stroke-width="1.9"/>
<text transform="translate(539.00,228.50) scale(1,1.06)" text-anchor="middle" font-size="9" font-weight="bold">0</text>
<line x1="562.22" y1="214.2" x2="562.22" y2="216.70" stroke="#000" stroke-width="1.9"/>
<line x1="585.43" y1="214.2" x2="585.43" y2="218.70" stroke="#000" stroke-width="1.9"/>
<text transform="translate(585.43,228.50) scale(1,1.06)" text-anchor="middle" font-size="9" font-weight="bold">200</text>
<line x1="608.65" y1="214.2" x2="608.65" y2="216.70" stroke="#000" stroke-width="1.9"/>
<line x1="631.87" y1="214.2" x2="631.87" y2="218.70" stroke="#000" stroke-width="1.9"/>
<text transform="translate(631.87,228.50) scale(1,1.06)" text-anchor="middle" font-size="9" font-weight="bold">400</text>
<line x1="655.08" y1="214.2" x2="655.08" y2="216.70" stroke="#000" stroke-width="1.9"/>
<line x1="678.30" y1="214.2" x2="678.30" y2="218.70" stroke="#000" stroke-width="1.9"/>
<text transform="translate(678.30,228.50) scale(1,1.06)" text-anchor="middle" font-size="9" font-weight="bold">600</text>
<text x="539" y="249.5" text-anchor="middle" font-size="13.9" font-weight="bold">Electric field (kV/cm)</text>
<text transform="translate(364.8,123.3) rotate(-90)" text-anchor="middle" font-size="14.1" font-weight="bold">Polarization (μC/cm<tspan font-size="8.5" dy="-6.3">2</tspan><tspan dy="6.3">)</tspan></text>
<text x="542.4" y="278.3" text-anchor="middle" font-size="16">(b)</text>
<rect x="552.4" y="175.9" width="123.1" height="35.9" fill="#fff" stroke="#a0a0a0" stroke-width="1"/>
<line x1="561.8" y1="183.30" x2="581.8" y2="183.30" stroke="#000" stroke-width="0.7" opacity="0.7"/>
<circle cx="571.7" cy="183.30" r="0.95" fill="#000"/>
<text transform="translate(584.00,186.50) scale(1,1.06)" font-size="9" font-weight="bold">600°C-300sec-30°C/sec</text>
<line x1="561.8" y1="194.80" x2="581.8" y2="194.80" stroke="#ff0000" stroke-width="0.7" opacity="0.7"/>
<circle cx="571.7" cy="194.80" r="0.95" fill="#ff0000"/>
<text transform="translate(584.00,198.00) scale(1,1.06)" font-size="9" font-weight="bold">650°C-300sec-30°C/sec</text>
<line x1="561.8" y1="206.30" x2="581.8" y2="206.30" stroke="#0000ff" stroke-width="0.7" opacity="0.7"/>
<circle cx="571.7" cy="206.30" r="0.95" fill="#0000ff"/>
<text transform="translate(584.00,209.50) scale(1,1.06)" font-size="9" font-weight="bold">700°C-300sec-30°C/sec</text>
</svg>
</body></html>
